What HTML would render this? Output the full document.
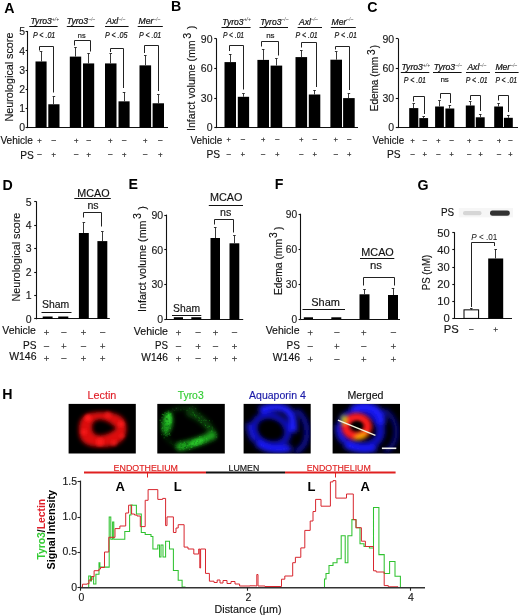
<!DOCTYPE html>
<html><head><meta charset="utf-8"><title>Figure</title>
<style>
html,body{margin:0;padding:0;background:#fff;width:520px;height:616px;overflow:hidden;}
svg{display:block;will-change:transform;font-family:"Liberation Sans", sans-serif;}
</style></head><body>
<svg width="520" height="616" viewBox="0 0 520 616">
<defs>
<filter id="b05" x="-50%" y="-50%" width="200%" height="200%"><feGaussianBlur stdDeviation="0.45"/></filter>
<filter id="b08" x="-50%" y="-50%" width="200%" height="200%"><feGaussianBlur stdDeviation="0.7"/></filter>
<filter id="b1" x="-50%" y="-50%" width="200%" height="200%"><feGaussianBlur stdDeviation="1"/></filter>
<filter id="b15" x="-50%" y="-50%" width="200%" height="200%"><feGaussianBlur stdDeviation="1.5"/></filter>
<filter id="b2" x="-50%" y="-50%" width="200%" height="200%"><feGaussianBlur stdDeviation="2"/></filter>
<filter id="b25" x="-50%" y="-50%" width="200%" height="200%"><feGaussianBlur stdDeviation="2.5"/></filter>
<clipPath id="c0"><rect x="68.6" y="403.9" width="67.2" height="49.6"/></clipPath><clipPath id="c1"><rect x="157.3" y="403.9" width="67.5" height="49.6"/></clipPath><clipPath id="c2"><rect x="243.6" y="403.9" width="67.1" height="49.6"/></clipPath><clipPath id="c3"><rect x="332.6" y="403.9" width="67.4" height="49.6"/></clipPath>
<filter id="b17" x="-50%" y="-50%" width="200%" height="200%"><feGaussianBlur stdDeviation="1.7"/></filter>
</defs>
<rect width="520" height="616" fill="#fff"/>
<text x="4.2" y="12.5" font-size="14.2" fill="#000" font-weight="bold">A</text>
<line x1="27.5" y1="31.1" x2="27.5" y2="128.1" stroke="#111" stroke-width="1.1"/>
<line x1="25.6" y1="127.5" x2="27.8" y2="127.5" stroke="#111" stroke-width="1.1"/>
<text x="25.1" y="131.38" font-size="10.5" fill="#1a1a1a" text-anchor="end" stroke="#1a1a1a" stroke-width="0.14">0</text>
<line x1="25.6" y1="108.5" x2="27.8" y2="108.5" stroke="#111" stroke-width="1.1"/>
<text x="25.1" y="112.18" font-size="10.5" fill="#1a1a1a" text-anchor="end" stroke="#1a1a1a" stroke-width="0.14">1</text>
<line x1="25.6" y1="89.5" x2="27.8" y2="89.5" stroke="#111" stroke-width="1.1"/>
<text x="25.1" y="92.98" font-size="10.5" fill="#1a1a1a" text-anchor="end" stroke="#1a1a1a" stroke-width="0.14">2</text>
<line x1="25.6" y1="70.5" x2="27.8" y2="70.5" stroke="#111" stroke-width="1.1"/>
<text x="25.1" y="73.78" font-size="10.5" fill="#1a1a1a" text-anchor="end" stroke="#1a1a1a" stroke-width="0.14">3</text>
<line x1="25.6" y1="50.5" x2="27.8" y2="50.5" stroke="#111" stroke-width="1.1"/>
<text x="25.1" y="54.58" font-size="10.5" fill="#1a1a1a" text-anchor="end" stroke="#1a1a1a" stroke-width="0.14">4</text>
<line x1="25.6" y1="31.5" x2="27.8" y2="31.5" stroke="#111" stroke-width="1.1"/>
<text x="25.1" y="35.38" font-size="10.5" fill="#1a1a1a" text-anchor="end" stroke="#1a1a1a" stroke-width="0.14">5</text>
<line x1="27.8" y1="127.5" x2="168" y2="127.5" stroke="#111" stroke-width="1.2"/>
<rect x="35.5" y="61.47" width="11.1" height="66.13" fill="#000"/>
<line x1="41.5" y1="51.75" x2="41.5" y2="61.47" stroke="#222" stroke-width="0.9"/>
<line x1="39.75" y1="51.5" x2="42.35" y2="51.5" stroke="#222" stroke-width="0.9"/>
<rect x="48.3" y="104.26" width="11.2" height="23.34" fill="#000"/>
<line x1="53.5" y1="96.48" x2="53.5" y2="104.26" stroke="#222" stroke-width="0.9"/>
<line x1="52.6" y1="96.5" x2="55.2" y2="96.5" stroke="#222" stroke-width="0.9"/>
<rect x="69.8" y="56.61" width="11.4" height="70.99" fill="#000"/>
<line x1="75.5" y1="47.47" x2="75.5" y2="56.61" stroke="#222" stroke-width="0.9"/>
<line x1="74.2" y1="47.5" x2="76.8" y2="47.5" stroke="#222" stroke-width="0.9"/>
<rect x="83" y="63.42" width="11.2" height="64.18" fill="#000"/>
<line x1="88.5" y1="53.3" x2="88.5" y2="63.42" stroke="#222" stroke-width="0.9"/>
<line x1="87.3" y1="53.5" x2="89.9" y2="53.5" stroke="#222" stroke-width="0.9"/>
<rect x="105" y="63.42" width="11.5" height="64.18" fill="#000"/>
<line x1="110.5" y1="53.69" x2="110.5" y2="63.42" stroke="#222" stroke-width="0.9"/>
<line x1="109.45" y1="53.5" x2="112.05" y2="53.5" stroke="#222" stroke-width="0.9"/>
<rect x="118.5" y="101.34" width="11.1" height="26.26" fill="#000"/>
<line x1="124.5" y1="92.01" x2="124.5" y2="101.34" stroke="#222" stroke-width="0.9"/>
<line x1="122.75" y1="92.5" x2="125.35" y2="92.5" stroke="#222" stroke-width="0.9"/>
<rect x="139.5" y="65.36" width="11.6" height="62.24" fill="#000"/>
<line x1="145.5" y1="55.63" x2="145.5" y2="65.36" stroke="#222" stroke-width="0.9"/>
<line x1="144" y1="55.5" x2="146.6" y2="55.5" stroke="#222" stroke-width="0.9"/>
<rect x="152.6" y="103.29" width="11.4" height="24.31" fill="#000"/>
<line x1="158.5" y1="94.53" x2="158.5" y2="103.29" stroke="#222" stroke-width="0.9"/>
<line x1="157" y1="94.5" x2="159.6" y2="94.5" stroke="#222" stroke-width="0.9"/>
<polyline points="39.5,50.5 39.5,46.5 53.5,46.5 53.5,92.5" fill="none" stroke="#222" stroke-width="1"/>
<polyline points="74.5,45.5 74.5,40.5 90.5,40.5 90.5,51.5" fill="none" stroke="#222" stroke-width="1"/>
<polyline points="110.5,52 110.5,48.5 123.5,48.5 123.5,88" fill="none" stroke="#222" stroke-width="1"/>
<polyline points="144.5,53 144.5,45.5 158.5,45.5 158.5,91" fill="none" stroke="#222" stroke-width="1"/>
<text x="30.5" y="24.4" font-size="8.6" font-style="italic" fill="#111" stroke="#111" stroke-width="0.22">Tyro3<tspan font-size="5" dy="-3.6" fill="#333" stroke="none">+/+</tspan></text>
<line x1="29.3" y1="26.5" x2="57.6" y2="26.5" stroke="#111" stroke-width="1"/>
<text x="66.8" y="24.4" font-size="8.6" font-style="italic" fill="#111" stroke="#111" stroke-width="0.22">Tyro3<tspan font-size="5" dy="-3.6" fill="#555" stroke="none">&#8211;/&#8211;</tspan></text>
<line x1="66.8" y1="26.5" x2="94.3" y2="26.5" stroke="#111" stroke-width="1"/>
<text x="106.3" y="24.4" font-size="8.6" font-style="italic" fill="#111" stroke="#111" stroke-width="0.22">Axl<tspan font-size="5" dy="-3.6" fill="#555" stroke="none">&#8211;/&#8211;</tspan></text>
<line x1="105" y1="26.5" x2="128.6" y2="26.5" stroke="#111" stroke-width="1"/>
<text x="138.5" y="24.4" font-size="8.6" font-style="italic" fill="#111" stroke="#111" stroke-width="0.22">Mer<tspan font-size="5" dy="-3.6" fill="#555" stroke="none">&#8211;/&#8211;</tspan></text>
<line x1="137.7" y1="26.5" x2="162.8" y2="26.5" stroke="#111" stroke-width="1"/>
<text x="32.9" y="37.9" font-size="8.4" fill="#111" font-style="italic" textLength="22.4" lengthAdjust="spacingAndGlyphs" stroke="#111" stroke-width="0.18">P &lt; .01</text>
<text x="77.8" y="37.6" font-size="8" fill="#111" textLength="7.8" lengthAdjust="spacingAndGlyphs" stroke="#111" stroke-width="0.15">ns</text>
<text x="105" y="37.9" font-size="8.4" fill="#111" font-style="italic" textLength="22.5" lengthAdjust="spacingAndGlyphs" stroke="#111" stroke-width="0.18">P &lt; .05</text>
<text x="139" y="37.9" font-size="8.4" fill="#111" font-style="italic" textLength="22.2" lengthAdjust="spacingAndGlyphs" stroke="#111" stroke-width="0.18">P &lt; .01</text>
<text transform="translate(13.29,121.6) rotate(-90)" font-size="10.8" fill="#111" stroke="#111" stroke-width="0.14" textLength="89" lengthAdjust="spacingAndGlyphs">Neurological score</text>
<text x="33" y="144.3" font-size="10.2" fill="#111" text-anchor="end" textLength="32.6" lengthAdjust="spacingAndGlyphs" stroke="#111" stroke-width="0.14">Vehicle</text>
<text x="33.8" y="158.5" font-size="10.2" fill="#111" text-anchor="end" stroke="#111" stroke-width="0.14">PS</text>
<line x1="37.4" y1="140.5" x2="41.6" y2="140.5" stroke="#444" stroke-width="0.85"/>
<line x1="39.5" y1="138.7" x2="39.5" y2="142.9" stroke="#444" stroke-width="0.85"/>
<line x1="37.2" y1="154.5" x2="41.8" y2="154.5" stroke="#444" stroke-width="0.85"/>
<line x1="51.4" y1="140.5" x2="56" y2="140.5" stroke="#444" stroke-width="0.85"/>
<line x1="51.6" y1="154.5" x2="55.8" y2="154.5" stroke="#444" stroke-width="0.85"/>
<line x1="53.5" y1="152.8" x2="53.5" y2="157" stroke="#444" stroke-width="0.85"/>
<line x1="74.1" y1="140.5" x2="78.3" y2="140.5" stroke="#444" stroke-width="0.85"/>
<line x1="76.5" y1="138.7" x2="76.5" y2="142.9" stroke="#444" stroke-width="0.85"/>
<line x1="73.9" y1="154.5" x2="78.5" y2="154.5" stroke="#444" stroke-width="0.85"/>
<line x1="86.4" y1="140.5" x2="91" y2="140.5" stroke="#444" stroke-width="0.85"/>
<line x1="86.6" y1="154.5" x2="90.8" y2="154.5" stroke="#444" stroke-width="0.85"/>
<line x1="88.5" y1="152.8" x2="88.5" y2="157" stroke="#444" stroke-width="0.85"/>
<line x1="108.2" y1="140.5" x2="112.4" y2="140.5" stroke="#444" stroke-width="0.85"/>
<line x1="110.5" y1="138.7" x2="110.5" y2="142.9" stroke="#444" stroke-width="0.85"/>
<line x1="108" y1="154.5" x2="112.6" y2="154.5" stroke="#444" stroke-width="0.85"/>
<line x1="121.9" y1="140.5" x2="126.5" y2="140.5" stroke="#444" stroke-width="0.85"/>
<line x1="122.1" y1="154.5" x2="126.3" y2="154.5" stroke="#444" stroke-width="0.85"/>
<line x1="124.5" y1="152.8" x2="124.5" y2="157" stroke="#444" stroke-width="0.85"/>
<line x1="143.1" y1="140.5" x2="147.3" y2="140.5" stroke="#444" stroke-width="0.85"/>
<line x1="145.5" y1="138.7" x2="145.5" y2="142.9" stroke="#444" stroke-width="0.85"/>
<line x1="142.9" y1="154.5" x2="147.5" y2="154.5" stroke="#444" stroke-width="0.85"/>
<line x1="158" y1="140.5" x2="162.6" y2="140.5" stroke="#444" stroke-width="0.85"/>
<line x1="158.2" y1="154.5" x2="162.4" y2="154.5" stroke="#444" stroke-width="0.85"/>
<line x1="160.5" y1="152.8" x2="160.5" y2="157" stroke="#444" stroke-width="0.85"/>
<text x="170.9" y="11" font-size="14.2" fill="#000" font-weight="bold">B</text>
<line x1="216.5" y1="38.45" x2="216.5" y2="128.1" stroke="#111" stroke-width="1.1"/>
<line x1="214.3" y1="127.5" x2="216.5" y2="127.5" stroke="#111" stroke-width="1.1"/>
<text x="212.5" y="131.38" font-size="10.5" fill="#1a1a1a" text-anchor="end" stroke="#1a1a1a" stroke-width="0.14">0</text>
<line x1="214.3" y1="98.5" x2="216.5" y2="98.5" stroke="#111" stroke-width="1.1"/>
<text x="212.5" y="101.83" font-size="10.5" fill="#1a1a1a" text-anchor="end" stroke="#1a1a1a" stroke-width="0.14">30</text>
<line x1="214.3" y1="68.5" x2="216.5" y2="68.5" stroke="#111" stroke-width="1.1"/>
<text x="212.5" y="72.28" font-size="10.5" fill="#1a1a1a" text-anchor="end" stroke="#1a1a1a" stroke-width="0.14">60</text>
<line x1="214.3" y1="38.5" x2="216.5" y2="38.5" stroke="#111" stroke-width="1.1"/>
<text x="212.5" y="42.73" font-size="10.5" fill="#1a1a1a" text-anchor="end" stroke="#1a1a1a" stroke-width="0.14">90</text>
<line x1="216.5" y1="127.5" x2="358" y2="127.5" stroke="#111" stroke-width="1.2"/>
<rect x="224.5" y="62.1" width="11.5" height="65.5" fill="#000"/>
<line x1="230.5" y1="54.2" x2="230.5" y2="62.1" stroke="#222" stroke-width="0.9"/>
<line x1="228.95" y1="54.5" x2="231.55" y2="54.5" stroke="#222" stroke-width="0.9"/>
<rect x="237.8" y="96.8" width="11.3" height="30.8" fill="#000"/>
<line x1="243.5" y1="93.9" x2="243.5" y2="96.8" stroke="#222" stroke-width="0.9"/>
<line x1="242.15" y1="93.5" x2="244.75" y2="93.5" stroke="#222" stroke-width="0.9"/>
<rect x="257.4" y="59.9" width="11.6" height="67.7" fill="#000"/>
<line x1="263.5" y1="49" x2="263.5" y2="59.9" stroke="#222" stroke-width="0.9"/>
<line x1="261.9" y1="49.5" x2="264.5" y2="49.5" stroke="#222" stroke-width="0.9"/>
<rect x="270.6" y="65.6" width="11.6" height="62" fill="#000"/>
<line x1="276.5" y1="58.8" x2="276.5" y2="65.6" stroke="#222" stroke-width="0.9"/>
<line x1="275.1" y1="58.5" x2="277.7" y2="58.5" stroke="#222" stroke-width="0.9"/>
<rect x="295.5" y="57.1" width="11.6" height="70.5" fill="#000"/>
<line x1="301.5" y1="50.1" x2="301.5" y2="57.1" stroke="#222" stroke-width="0.9"/>
<line x1="300" y1="50.5" x2="302.6" y2="50.5" stroke="#222" stroke-width="0.9"/>
<rect x="308.8" y="94.5" width="11.5" height="33.1" fill="#000"/>
<line x1="314.5" y1="90.3" x2="314.5" y2="94.5" stroke="#222" stroke-width="0.9"/>
<line x1="313.25" y1="90.5" x2="315.85" y2="90.5" stroke="#222" stroke-width="0.9"/>
<rect x="330.4" y="59.7" width="11.6" height="67.9" fill="#000"/>
<line x1="336.5" y1="51.8" x2="336.5" y2="59.7" stroke="#222" stroke-width="0.9"/>
<line x1="334.9" y1="51.5" x2="337.5" y2="51.5" stroke="#222" stroke-width="0.9"/>
<rect x="343.1" y="98.1" width="11.6" height="29.5" fill="#000"/>
<line x1="348.5" y1="93.8" x2="348.5" y2="98.1" stroke="#222" stroke-width="0.9"/>
<line x1="347.6" y1="93.5" x2="350.2" y2="93.5" stroke="#222" stroke-width="0.9"/>
<polyline points="229.5,51 229.5,45.5 243.5,45.5 243.5,89.5" fill="none" stroke="#222" stroke-width="1"/>
<polyline points="261.5,46.5 261.5,41.5 278.5,41.5 278.5,55.5" fill="none" stroke="#222" stroke-width="1"/>
<polyline points="301.5,47.5 301.5,42.5 316.5,42.5 316.5,87" fill="none" stroke="#222" stroke-width="1"/>
<polyline points="335.5,49.5 335.5,46.5 349.5,46.5 349.5,90" fill="none" stroke="#222" stroke-width="1"/>
<text x="222.3" y="24.6" font-size="8.6" font-style="italic" fill="#111" stroke="#111" stroke-width="0.22">Tyro3<tspan font-size="5" dy="-3.6" fill="#333" stroke="none">+/+</tspan></text>
<line x1="221.5" y1="27.5" x2="250.6" y2="27.5" stroke="#111" stroke-width="1"/>
<text x="260.2" y="24.6" font-size="8.6" font-style="italic" fill="#111" stroke="#111" stroke-width="0.22">Tyro3<tspan font-size="5" dy="-3.6" fill="#555" stroke="none">&#8211;/&#8211;</tspan></text>
<line x1="259.5" y1="27.5" x2="288" y2="27.5" stroke="#111" stroke-width="1"/>
<text x="299" y="24.6" font-size="8.6" font-style="italic" fill="#111" stroke="#111" stroke-width="0.22">Axl<tspan font-size="5" dy="-3.6" fill="#555" stroke="none">&#8211;/&#8211;</tspan></text>
<line x1="297.6" y1="27.5" x2="322" y2="27.5" stroke="#111" stroke-width="1"/>
<text x="331.5" y="24.6" font-size="8.6" font-style="italic" fill="#111" stroke="#111" stroke-width="0.22">Mer<tspan font-size="5" dy="-3.6" fill="#555" stroke="none">&#8211;/&#8211;</tspan></text>
<line x1="330.8" y1="27.5" x2="355.8" y2="27.5" stroke="#111" stroke-width="1"/>
<text x="222.9" y="38.1" font-size="8.4" fill="#111" font-style="italic" textLength="21.2" lengthAdjust="spacingAndGlyphs" stroke="#111" stroke-width="0.18">P &lt; .01</text>
<text x="266.2" y="38.2" font-size="8" fill="#111" textLength="8.4" lengthAdjust="spacingAndGlyphs" stroke="#111" stroke-width="0.15">ns</text>
<text x="295.5" y="38.1" font-size="8.4" fill="#111" font-style="italic" textLength="22.2" lengthAdjust="spacingAndGlyphs" stroke="#111" stroke-width="0.18">P &lt; .01</text>
<text x="334.6" y="38.1" font-size="8.4" fill="#111" font-style="italic" textLength="22.2" lengthAdjust="spacingAndGlyphs" stroke="#111" stroke-width="0.18">P &lt; .01</text>
<text transform="translate(195.3,131) rotate(-90)" font-size="10.6" fill="#111" stroke="#111" stroke-width="0.14"><tspan textLength="90.7" lengthAdjust="spacingAndGlyphs">Infarct volume (mm</tspan><tspan dx="1.6" dy="-4.8">3</tspan><tspan dx="3.5" dy="4.8">)</tspan></text>
<text x="222.3" y="143.6" font-size="10.2" fill="#111" text-anchor="end" textLength="31.8" lengthAdjust="spacingAndGlyphs" stroke="#111" stroke-width="0.14">Vehicle</text>
<text x="220" y="157.8" font-size="10.2" fill="#111" text-anchor="end" stroke="#111" stroke-width="0.14">PS</text>
<line x1="226.7" y1="139.5" x2="230.7" y2="139.5" stroke="#444" stroke-width="0.85"/>
<line x1="228.5" y1="137.6" x2="228.5" y2="141.6" stroke="#444" stroke-width="0.85"/>
<line x1="226.5" y1="154.5" x2="230.9" y2="154.5" stroke="#444" stroke-width="0.85"/>
<line x1="240.7" y1="139.5" x2="245.1" y2="139.5" stroke="#444" stroke-width="0.85"/>
<line x1="240.9" y1="154.5" x2="244.9" y2="154.5" stroke="#444" stroke-width="0.85"/>
<line x1="242.5" y1="152.2" x2="242.5" y2="156.2" stroke="#444" stroke-width="0.85"/>
<line x1="261.1" y1="139.5" x2="265.1" y2="139.5" stroke="#444" stroke-width="0.85"/>
<line x1="263.5" y1="137.6" x2="263.5" y2="141.6" stroke="#444" stroke-width="0.85"/>
<line x1="260.9" y1="154.5" x2="265.3" y2="154.5" stroke="#444" stroke-width="0.85"/>
<line x1="275.1" y1="139.5" x2="279.5" y2="139.5" stroke="#444" stroke-width="0.85"/>
<line x1="275.3" y1="154.5" x2="279.3" y2="154.5" stroke="#444" stroke-width="0.85"/>
<line x1="277.5" y1="152.2" x2="277.5" y2="156.2" stroke="#444" stroke-width="0.85"/>
<line x1="299.3" y1="139.5" x2="303.3" y2="139.5" stroke="#444" stroke-width="0.85"/>
<line x1="301.5" y1="137.6" x2="301.5" y2="141.6" stroke="#444" stroke-width="0.85"/>
<line x1="299.1" y1="154.5" x2="303.5" y2="154.5" stroke="#444" stroke-width="0.85"/>
<line x1="312.6" y1="139.5" x2="317" y2="139.5" stroke="#444" stroke-width="0.85"/>
<line x1="312.8" y1="154.5" x2="316.8" y2="154.5" stroke="#444" stroke-width="0.85"/>
<line x1="314.5" y1="152.2" x2="314.5" y2="156.2" stroke="#444" stroke-width="0.85"/>
<line x1="333.8" y1="139.5" x2="337.8" y2="139.5" stroke="#444" stroke-width="0.85"/>
<line x1="335.5" y1="137.6" x2="335.5" y2="141.6" stroke="#444" stroke-width="0.85"/>
<line x1="333.6" y1="154.5" x2="338" y2="154.5" stroke="#444" stroke-width="0.85"/>
<line x1="347" y1="139.5" x2="351.4" y2="139.5" stroke="#444" stroke-width="0.85"/>
<line x1="347.2" y1="154.5" x2="351.2" y2="154.5" stroke="#444" stroke-width="0.85"/>
<line x1="349.5" y1="152.2" x2="349.5" y2="156.2" stroke="#444" stroke-width="0.85"/>
<text x="367.2" y="11.6" font-size="14.2" fill="#000" font-weight="bold">C</text>
<line x1="398.5" y1="38.45" x2="398.5" y2="128.1" stroke="#111" stroke-width="1.1"/>
<line x1="395.8" y1="127.5" x2="398" y2="127.5" stroke="#111" stroke-width="1.1"/>
<text x="394.1" y="131.38" font-size="10.5" fill="#1a1a1a" text-anchor="end" stroke="#1a1a1a" stroke-width="0.14">0</text>
<line x1="395.8" y1="98.5" x2="398" y2="98.5" stroke="#111" stroke-width="1.1"/>
<text x="394.1" y="101.83" font-size="10.5" fill="#1a1a1a" text-anchor="end" stroke="#1a1a1a" stroke-width="0.14">30</text>
<line x1="395.8" y1="68.5" x2="398" y2="68.5" stroke="#111" stroke-width="1.1"/>
<text x="394.1" y="72.28" font-size="10.5" fill="#1a1a1a" text-anchor="end" stroke="#1a1a1a" stroke-width="0.14">60</text>
<line x1="395.8" y1="38.5" x2="398" y2="38.5" stroke="#111" stroke-width="1.1"/>
<text x="394.1" y="42.73" font-size="10.5" fill="#1a1a1a" text-anchor="end" stroke="#1a1a1a" stroke-width="0.14">90</text>
<line x1="398" y1="127.5" x2="518" y2="127.5" stroke="#111" stroke-width="1.2"/>
<rect x="409.2" y="108.1" width="9.1" height="19.5" fill="#000"/>
<line x1="413.5" y1="103.9" x2="413.5" y2="108.1" stroke="#222" stroke-width="0.9"/>
<line x1="412.45" y1="103.5" x2="415.05" y2="103.5" stroke="#222" stroke-width="0.9"/>
<rect x="419.3" y="118.1" width="8.8" height="9.5" fill="#000"/>
<line x1="423.5" y1="116.6" x2="423.5" y2="118.1" stroke="#222" stroke-width="0.9"/>
<line x1="422.4" y1="116.5" x2="425" y2="116.5" stroke="#222" stroke-width="0.9"/>
<rect x="435.1" y="106.5" width="8.8" height="21.1" fill="#000"/>
<line x1="439.5" y1="100.8" x2="439.5" y2="106.5" stroke="#222" stroke-width="0.9"/>
<line x1="438.2" y1="100.5" x2="440.8" y2="100.5" stroke="#222" stroke-width="0.9"/>
<rect x="445.4" y="108.5" width="8.9" height="19.1" fill="#000"/>
<line x1="449.5" y1="105" x2="449.5" y2="108.5" stroke="#222" stroke-width="0.9"/>
<line x1="448.55" y1="105.5" x2="451.15" y2="105.5" stroke="#222" stroke-width="0.9"/>
<rect x="465.8" y="105.5" width="8.9" height="22.1" fill="#000"/>
<line x1="470.5" y1="101.9" x2="470.5" y2="105.5" stroke="#222" stroke-width="0.9"/>
<line x1="468.95" y1="101.5" x2="471.55" y2="101.5" stroke="#222" stroke-width="0.9"/>
<rect x="475.8" y="117.3" width="8.9" height="10.3" fill="#000"/>
<line x1="480.5" y1="114.2" x2="480.5" y2="117.3" stroke="#222" stroke-width="0.9"/>
<line x1="478.95" y1="114.5" x2="481.55" y2="114.5" stroke="#222" stroke-width="0.9"/>
<rect x="494.2" y="106.5" width="8.8" height="21.1" fill="#000"/>
<line x1="498.5" y1="103" x2="498.5" y2="106.5" stroke="#222" stroke-width="0.9"/>
<line x1="497.3" y1="103.5" x2="499.9" y2="103.5" stroke="#222" stroke-width="0.9"/>
<rect x="503.9" y="117.8" width="8.9" height="9.8" fill="#000"/>
<line x1="508.5" y1="115" x2="508.5" y2="117.8" stroke="#222" stroke-width="0.9"/>
<line x1="507.05" y1="115.5" x2="509.65" y2="115.5" stroke="#222" stroke-width="0.9"/>
<polyline points="413.5,101.5 413.5,96.5 424.5,96.5 424.5,114" fill="none" stroke="#222" stroke-width="1"/>
<polyline points="440.5,98.5 440.5,93.5 450.5,93.5 450.5,103" fill="none" stroke="#222" stroke-width="1"/>
<polyline points="470.5,100 470.5,95.5 480.5,95.5 480.5,111" fill="none" stroke="#222" stroke-width="1"/>
<polyline points="498.5,100.5 498.5,95.5 508.5,95.5 508.5,112" fill="none" stroke="#222" stroke-width="1"/>
<text x="401.5" y="70.3" font-size="8.6" font-style="italic" fill="#111" stroke="#111" stroke-width="0.22">Tyro3<tspan font-size="5" dy="-3.6" fill="#333" stroke="none">+/+</tspan></text>
<line x1="400.8" y1="72.5" x2="429.3" y2="72.5" stroke="#111" stroke-width="1"/>
<text x="433.8" y="70.3" font-size="8.6" font-style="italic" fill="#111" stroke="#111" stroke-width="0.22">Tyro3<tspan font-size="5" dy="-3.6" fill="#555" stroke="none">&#8211;/&#8211;</tspan></text>
<line x1="433" y1="72.5" x2="461.6" y2="72.5" stroke="#111" stroke-width="1"/>
<text x="467.4" y="70.3" font-size="8.6" font-style="italic" fill="#111" stroke="#111" stroke-width="0.22">Axl<tspan font-size="5" dy="-3.6" fill="#555" stroke="none">&#8211;/&#8211;</tspan></text>
<line x1="466" y1="72.5" x2="490" y2="72.5" stroke="#111" stroke-width="1"/>
<text x="495.4" y="70.3" font-size="8.6" font-style="italic" fill="#111" stroke="#111" stroke-width="0.22">Mer<tspan font-size="5" dy="-3.6" fill="#555" stroke="none">&#8211;/&#8211;</tspan></text>
<line x1="495" y1="72.5" x2="518.6" y2="72.5" stroke="#111" stroke-width="1"/>
<text x="403.8" y="82.8" font-size="8.4" fill="#111" font-style="italic" textLength="22.2" lengthAdjust="spacingAndGlyphs" stroke="#111" stroke-width="0.18">P &lt; .01</text>
<text x="440.4" y="82.4" font-size="8" fill="#111" textLength="8.5" lengthAdjust="spacingAndGlyphs" stroke="#111" stroke-width="0.15">ns</text>
<text x="465.8" y="82.8" font-size="8.4" fill="#111" font-style="italic" textLength="21.8" lengthAdjust="spacingAndGlyphs" stroke="#111" stroke-width="0.18">P &lt; .01</text>
<text x="495.4" y="82.8" font-size="8.4" fill="#111" font-style="italic" textLength="21.6" lengthAdjust="spacingAndGlyphs" stroke="#111" stroke-width="0.18">P &lt; .01</text>
<text transform="translate(378.2,111.3) rotate(-90)" font-size="10.1" fill="#111" stroke="#111" stroke-width="0.14"><tspan textLength="54.5" lengthAdjust="spacingAndGlyphs">Edema (mm</tspan><tspan dx="1.8" dy="-2.9">3</tspan><tspan dx="1.2" dy="2.9">)</tspan></text>
<text x="404.2" y="144.4" font-size="10.2" fill="#111" text-anchor="end" textLength="31.6" lengthAdjust="spacingAndGlyphs" stroke="#111" stroke-width="0.14">Vehicle</text>
<text x="400.6" y="157.5" font-size="10.2" fill="#111" text-anchor="end" stroke="#111" stroke-width="0.14">PS</text>
<line x1="410.6" y1="140.5" x2="414.6" y2="140.5" stroke="#444" stroke-width="0.85"/>
<line x1="412.5" y1="138.9" x2="412.5" y2="142.9" stroke="#444" stroke-width="0.85"/>
<line x1="410.4" y1="154.5" x2="414.8" y2="154.5" stroke="#444" stroke-width="0.85"/>
<line x1="422.6" y1="140.5" x2="427" y2="140.5" stroke="#444" stroke-width="0.85"/>
<line x1="422.8" y1="154.5" x2="426.8" y2="154.5" stroke="#444" stroke-width="0.85"/>
<line x1="424.5" y1="152.1" x2="424.5" y2="156.1" stroke="#444" stroke-width="0.85"/>
<line x1="436.4" y1="140.5" x2="440.4" y2="140.5" stroke="#444" stroke-width="0.85"/>
<line x1="438.5" y1="138.9" x2="438.5" y2="142.9" stroke="#444" stroke-width="0.85"/>
<line x1="436.2" y1="154.5" x2="440.6" y2="154.5" stroke="#444" stroke-width="0.85"/>
<line x1="449.4" y1="140.5" x2="453.8" y2="140.5" stroke="#444" stroke-width="0.85"/>
<line x1="449.6" y1="154.5" x2="453.6" y2="154.5" stroke="#444" stroke-width="0.85"/>
<line x1="451.5" y1="152.1" x2="451.5" y2="156.1" stroke="#444" stroke-width="0.85"/>
<line x1="467.2" y1="140.5" x2="471.2" y2="140.5" stroke="#444" stroke-width="0.85"/>
<line x1="469.5" y1="138.9" x2="469.5" y2="142.9" stroke="#444" stroke-width="0.85"/>
<line x1="467" y1="154.5" x2="471.4" y2="154.5" stroke="#444" stroke-width="0.85"/>
<line x1="478.4" y1="140.5" x2="482.8" y2="140.5" stroke="#444" stroke-width="0.85"/>
<line x1="478.6" y1="154.5" x2="482.6" y2="154.5" stroke="#444" stroke-width="0.85"/>
<line x1="480.5" y1="152.1" x2="480.5" y2="156.1" stroke="#444" stroke-width="0.85"/>
<line x1="497" y1="140.5" x2="501" y2="140.5" stroke="#444" stroke-width="0.85"/>
<line x1="499.5" y1="138.9" x2="499.5" y2="142.9" stroke="#444" stroke-width="0.85"/>
<line x1="496.8" y1="154.5" x2="501.2" y2="154.5" stroke="#444" stroke-width="0.85"/>
<line x1="508.2" y1="140.5" x2="512.6" y2="140.5" stroke="#444" stroke-width="0.85"/>
<line x1="508.4" y1="154.5" x2="512.4" y2="154.5" stroke="#444" stroke-width="0.85"/>
<line x1="510.5" y1="152.1" x2="510.5" y2="156.1" stroke="#444" stroke-width="0.85"/>
<text x="2.5" y="189.7" font-size="14.2" fill="#000" font-weight="bold">D</text>
<line x1="36.5" y1="201.3" x2="36.5" y2="319.3" stroke="#111" stroke-width="1.1"/>
<line x1="34.2" y1="318.5" x2="36.4" y2="318.5" stroke="#111" stroke-width="1.1"/>
<text x="31.7" y="322.58" font-size="10.5" fill="#1a1a1a" text-anchor="end" stroke="#1a1a1a" stroke-width="0.14">0</text>
<line x1="34.2" y1="295.5" x2="36.4" y2="295.5" stroke="#111" stroke-width="1.1"/>
<text x="31.7" y="299.18" font-size="10.5" fill="#1a1a1a" text-anchor="end" stroke="#1a1a1a" stroke-width="0.14">1</text>
<line x1="34.2" y1="272.5" x2="36.4" y2="272.5" stroke="#111" stroke-width="1.1"/>
<text x="31.7" y="275.78" font-size="10.5" fill="#1a1a1a" text-anchor="end" stroke="#1a1a1a" stroke-width="0.14">2</text>
<line x1="34.2" y1="248.5" x2="36.4" y2="248.5" stroke="#111" stroke-width="1.1"/>
<text x="31.7" y="252.38" font-size="10.5" fill="#1a1a1a" text-anchor="end" stroke="#1a1a1a" stroke-width="0.14">3</text>
<line x1="34.2" y1="225.5" x2="36.4" y2="225.5" stroke="#111" stroke-width="1.1"/>
<text x="31.7" y="228.98" font-size="10.5" fill="#1a1a1a" text-anchor="end" stroke="#1a1a1a" stroke-width="0.14">4</text>
<line x1="34.2" y1="201.5" x2="36.4" y2="201.5" stroke="#111" stroke-width="1.1"/>
<text x="31.7" y="205.58" font-size="10.5" fill="#1a1a1a" text-anchor="end" stroke="#1a1a1a" stroke-width="0.14">5</text>
<line x1="36.4" y1="318.5" x2="109.8" y2="318.5" stroke="#111" stroke-width="1.2"/>
<rect x="42.7" y="316.5" width="9.9" height="2.3" fill="#000"/>
<rect x="58.2" y="316.5" width="10.1" height="2.3" fill="#000"/>
<rect x="78.9" y="233" width="9.9" height="85.8" fill="#000"/>
<line x1="83.5" y1="222.6" x2="83.5" y2="233" stroke="#222" stroke-width="0.9"/>
<line x1="82.55" y1="222.5" x2="85.15" y2="222.5" stroke="#222" stroke-width="0.9"/>
<rect x="97.4" y="241.1" width="9.9" height="77.7" fill="#000"/>
<line x1="102.5" y1="231.8" x2="102.5" y2="241.1" stroke="#222" stroke-width="0.9"/>
<line x1="101.05" y1="231.5" x2="103.65" y2="231.5" stroke="#222" stroke-width="0.9"/>
<text x="42" y="308" font-size="10.2" fill="#111" textLength="27.2" lengthAdjust="spacingAndGlyphs" stroke="#111" stroke-width="0.14">Sham</text>
<line x1="41.5" y1="312.5" x2="71.5" y2="312.5" stroke="#111" stroke-width="1"/>
<text x="77.3" y="196.6" font-size="10.2" fill="#111" textLength="32.3" lengthAdjust="spacingAndGlyphs" stroke="#111" stroke-width="0.14">MCAO</text>
<line x1="74.3" y1="198.5" x2="110.8" y2="198.5" stroke="#111" stroke-width="1"/>
<text x="87.4" y="208.6" font-size="10.2" fill="#111" textLength="11.2" lengthAdjust="spacingAndGlyphs" stroke="#111" stroke-width="0.14">ns</text>
<polyline points="83.5,217.5 83.5,212.5 101.5,212.5 101.5,226.5" fill="none" stroke="#222" stroke-width="1"/>
<text transform="translate(20.49,301.5) rotate(-90)" font-size="10.8" fill="#111" stroke="#111" stroke-width="0.14" textLength="88.8" lengthAdjust="spacingAndGlyphs">Neurological score</text>
<text x="35.8" y="333.5" font-size="10.2" fill="#111" text-anchor="end" textLength="33.5" lengthAdjust="spacingAndGlyphs" stroke="#111" stroke-width="0.14">Vehicle</text>
<text x="36.5" y="348.5" font-size="10.2" fill="#111" text-anchor="end" textLength="13.5" lengthAdjust="spacingAndGlyphs" stroke="#111" stroke-width="0.14">PS</text>
<text x="36.5" y="360.4" font-size="10.2" fill="#111" text-anchor="end" textLength="27.3" lengthAdjust="spacingAndGlyphs" stroke="#111" stroke-width="0.14">W146</text>
<line x1="44" y1="332.5" x2="49" y2="332.5" stroke="#444" stroke-width="0.85"/>
<line x1="46.5" y1="329.9" x2="46.5" y2="334.9" stroke="#444" stroke-width="0.85"/>
<line x1="61.2" y1="332.5" x2="66.6" y2="332.5" stroke="#444" stroke-width="0.85"/>
<line x1="81" y1="332.5" x2="86" y2="332.5" stroke="#444" stroke-width="0.85"/>
<line x1="83.5" y1="329.9" x2="83.5" y2="334.9" stroke="#444" stroke-width="0.85"/>
<line x1="100" y1="332.5" x2="105.4" y2="332.5" stroke="#444" stroke-width="0.85"/>
<line x1="43.8" y1="346.5" x2="49.2" y2="346.5" stroke="#444" stroke-width="0.85"/>
<line x1="61.4" y1="346.5" x2="66.4" y2="346.5" stroke="#444" stroke-width="0.85"/>
<line x1="63.5" y1="343.5" x2="63.5" y2="348.5" stroke="#444" stroke-width="0.85"/>
<line x1="80.8" y1="346.5" x2="86.2" y2="346.5" stroke="#444" stroke-width="0.85"/>
<line x1="100.2" y1="346.5" x2="105.2" y2="346.5" stroke="#444" stroke-width="0.85"/>
<line x1="102.5" y1="343.5" x2="102.5" y2="348.5" stroke="#444" stroke-width="0.85"/>
<line x1="44" y1="358.5" x2="49" y2="358.5" stroke="#444" stroke-width="0.85"/>
<line x1="46.5" y1="355.9" x2="46.5" y2="360.9" stroke="#444" stroke-width="0.85"/>
<line x1="61.2" y1="358.5" x2="66.6" y2="358.5" stroke="#444" stroke-width="0.85"/>
<line x1="81" y1="358.5" x2="86" y2="358.5" stroke="#444" stroke-width="0.85"/>
<line x1="83.5" y1="355.9" x2="83.5" y2="360.9" stroke="#444" stroke-width="0.85"/>
<line x1="100.2" y1="358.5" x2="105.2" y2="358.5" stroke="#444" stroke-width="0.85"/>
<line x1="102.5" y1="355.9" x2="102.5" y2="360.9" stroke="#444" stroke-width="0.85"/>
<text x="128.5" y="189.1" font-size="14.2" fill="#000" font-weight="bold">E</text>
<line x1="166.5" y1="214.6" x2="166.5" y2="320" stroke="#111" stroke-width="1.1"/>
<line x1="164.3" y1="319.5" x2="166.5" y2="319.5" stroke="#111" stroke-width="1.1"/>
<text x="163.2" y="323.28" font-size="10.5" fill="#1a1a1a" text-anchor="end" stroke="#1a1a1a" stroke-width="0.14">0</text>
<line x1="164.3" y1="284.5" x2="166.5" y2="284.5" stroke="#111" stroke-width="1.1"/>
<text x="163.2" y="288.48" font-size="10.5" fill="#1a1a1a" text-anchor="end" stroke="#1a1a1a" stroke-width="0.14">30</text>
<line x1="164.3" y1="249.5" x2="166.5" y2="249.5" stroke="#111" stroke-width="1.1"/>
<text x="163.2" y="253.68" font-size="10.5" fill="#1a1a1a" text-anchor="end" stroke="#1a1a1a" stroke-width="0.14">60</text>
<line x1="164.3" y1="215.5" x2="166.5" y2="215.5" stroke="#111" stroke-width="1.1"/>
<text x="163.2" y="218.88" font-size="10.5" fill="#1a1a1a" text-anchor="end" stroke="#1a1a1a" stroke-width="0.14">90</text>
<line x1="166.3" y1="319.5" x2="243.2" y2="319.5" stroke="#111" stroke-width="1.2"/>
<rect x="173.8" y="317.2" width="9.2" height="2.3" fill="#000"/>
<rect x="191.3" y="317.2" width="10" height="2.3" fill="#000"/>
<rect x="210.5" y="238" width="9.5" height="81.5" fill="#000"/>
<line x1="215.5" y1="227.5" x2="215.5" y2="238" stroke="#222" stroke-width="0.9"/>
<line x1="213.95" y1="227.5" x2="216.55" y2="227.5" stroke="#222" stroke-width="0.9"/>
<rect x="229.5" y="243.3" width="9.8" height="76.2" fill="#000"/>
<line x1="234.5" y1="235.5" x2="234.5" y2="243.3" stroke="#222" stroke-width="0.9"/>
<line x1="233.1" y1="235.5" x2="235.7" y2="235.5" stroke="#222" stroke-width="0.9"/>
<text x="173" y="311.6" font-size="10.2" fill="#111" textLength="27" lengthAdjust="spacingAndGlyphs" stroke="#111" stroke-width="0.14">Sham</text>
<line x1="172" y1="315.5" x2="201.3" y2="315.5" stroke="#111" stroke-width="1"/>
<text x="210" y="201.2" font-size="10.2" fill="#111" textLength="32.5" lengthAdjust="spacingAndGlyphs" stroke="#111" stroke-width="0.14">MCAO</text>
<line x1="208.8" y1="205.5" x2="243" y2="205.5" stroke="#111" stroke-width="1"/>
<text x="220" y="216" font-size="10.2" fill="#111" textLength="11.3" lengthAdjust="spacingAndGlyphs" stroke="#111" stroke-width="0.14">ns</text>
<polyline points="214.5,224.5 214.5,219.5 233.5,219.5 233.5,232.5" fill="none" stroke="#222" stroke-width="1"/>
<text transform="translate(146.2,312) rotate(-90)" font-size="10.7" fill="#111" stroke="#111" stroke-width="0.14"><tspan textLength="91.5" lengthAdjust="spacingAndGlyphs">Infarct volume (mm</tspan><tspan dx="1.5" dy="-4.8">3</tspan><tspan dx="3.4" dy="4.8">)</tspan></text>
<text x="168" y="334.9" font-size="10.2" fill="#111" text-anchor="end" textLength="34.2" lengthAdjust="spacingAndGlyphs" stroke="#111" stroke-width="0.14">Vehicle</text>
<text x="168" y="349.4" font-size="10.2" fill="#111" text-anchor="end" textLength="13" lengthAdjust="spacingAndGlyphs" stroke="#111" stroke-width="0.14">PS</text>
<text x="168" y="361.1" font-size="10.2" fill="#111" text-anchor="end" textLength="26.7" lengthAdjust="spacingAndGlyphs" stroke="#111" stroke-width="0.14">W146</text>
<line x1="176" y1="332.5" x2="181" y2="332.5" stroke="#444" stroke-width="0.85"/>
<line x1="178.5" y1="330.3" x2="178.5" y2="335.3" stroke="#444" stroke-width="0.85"/>
<line x1="195.4" y1="332.5" x2="200.8" y2="332.5" stroke="#444" stroke-width="0.85"/>
<line x1="213" y1="332.5" x2="218" y2="332.5" stroke="#444" stroke-width="0.85"/>
<line x1="215.5" y1="330.3" x2="215.5" y2="335.3" stroke="#444" stroke-width="0.85"/>
<line x1="231.8" y1="332.5" x2="237.2" y2="332.5" stroke="#444" stroke-width="0.85"/>
<line x1="175.8" y1="346.5" x2="181.2" y2="346.5" stroke="#444" stroke-width="0.85"/>
<line x1="195.6" y1="346.5" x2="200.6" y2="346.5" stroke="#444" stroke-width="0.85"/>
<line x1="198.5" y1="344" x2="198.5" y2="349" stroke="#444" stroke-width="0.85"/>
<line x1="212.8" y1="346.5" x2="218.2" y2="346.5" stroke="#444" stroke-width="0.85"/>
<line x1="232" y1="346.5" x2="237" y2="346.5" stroke="#444" stroke-width="0.85"/>
<line x1="234.5" y1="344" x2="234.5" y2="349" stroke="#444" stroke-width="0.85"/>
<line x1="176" y1="358.5" x2="181" y2="358.5" stroke="#444" stroke-width="0.85"/>
<line x1="178.5" y1="356.3" x2="178.5" y2="361.3" stroke="#444" stroke-width="0.85"/>
<line x1="195.4" y1="358.5" x2="200.8" y2="358.5" stroke="#444" stroke-width="0.85"/>
<line x1="213" y1="358.5" x2="218" y2="358.5" stroke="#444" stroke-width="0.85"/>
<line x1="215.5" y1="356.3" x2="215.5" y2="361.3" stroke="#444" stroke-width="0.85"/>
<line x1="232" y1="358.5" x2="237" y2="358.5" stroke="#444" stroke-width="0.85"/>
<line x1="234.5" y1="356.3" x2="234.5" y2="361.3" stroke="#444" stroke-width="0.85"/>
<text x="274.7" y="188.8" font-size="14.2" fill="#000" font-weight="bold">F</text>
<line x1="300.5" y1="213.75" x2="300.5" y2="319.6" stroke="#111" stroke-width="1.1"/>
<line x1="298.6" y1="319.5" x2="300.8" y2="319.5" stroke="#111" stroke-width="1.1"/>
<text x="297.1" y="322.77" font-size="10.2" fill="#1a1a1a" text-anchor="end" stroke="#1a1a1a" stroke-width="0.14">0</text>
<line x1="298.6" y1="284.5" x2="300.8" y2="284.5" stroke="#111" stroke-width="1.1"/>
<text x="297.1" y="287.82" font-size="10.2" fill="#1a1a1a" text-anchor="end" stroke="#1a1a1a" stroke-width="0.14">30</text>
<line x1="298.6" y1="249.5" x2="300.8" y2="249.5" stroke="#111" stroke-width="1.1"/>
<text x="297.1" y="252.87" font-size="10.2" fill="#1a1a1a" text-anchor="end" stroke="#1a1a1a" stroke-width="0.14">60</text>
<line x1="298.6" y1="214.5" x2="300.8" y2="214.5" stroke="#111" stroke-width="1.1"/>
<text x="297.1" y="217.92" font-size="10.2" fill="#1a1a1a" text-anchor="end" stroke="#1a1a1a" stroke-width="0.14">90</text>
<line x1="301" y1="319.5" x2="400" y2="319.5" stroke="#111" stroke-width="1.2"/>
<rect x="303.8" y="317.3" width="9.2" height="1.8" fill="#000"/>
<rect x="331.3" y="317.3" width="10" height="1.8" fill="#000"/>
<rect x="359.5" y="294.3" width="10" height="24.8" fill="#000"/>
<line x1="364.5" y1="289.5" x2="364.5" y2="294.3" stroke="#222" stroke-width="0.9"/>
<line x1="363.2" y1="289.5" x2="365.8" y2="289.5" stroke="#222" stroke-width="0.9"/>
<rect x="388" y="295" width="10" height="24.1" fill="#000"/>
<line x1="393.5" y1="288.3" x2="393.5" y2="295" stroke="#222" stroke-width="0.9"/>
<line x1="391.7" y1="288.5" x2="394.3" y2="288.5" stroke="#222" stroke-width="0.9"/>
<text x="311.3" y="306.1" font-size="10.2" fill="#111" textLength="28.7" lengthAdjust="spacingAndGlyphs" stroke="#111" stroke-width="0.14">Sham</text>
<line x1="302.5" y1="309.5" x2="345" y2="309.5" stroke="#111" stroke-width="1"/>
<text x="361.3" y="255.6" font-size="10.2" fill="#111" textLength="32.5" lengthAdjust="spacingAndGlyphs" stroke="#111" stroke-width="0.14">MCAO</text>
<line x1="360" y1="258.5" x2="394.3" y2="258.5" stroke="#111" stroke-width="1"/>
<text x="370" y="268.6" font-size="10.2" fill="#111" textLength="12" lengthAdjust="spacingAndGlyphs" stroke="#111" stroke-width="0.14">ns</text>
<polyline points="363.5,285.5 363.5,277.5 394.5,277.5 394.5,285.5" fill="none" stroke="#222" stroke-width="1"/>
<text transform="translate(281.9,295) rotate(-90)" font-size="10.3" fill="#111" stroke="#111" stroke-width="0.14"><tspan textLength="56" lengthAdjust="spacingAndGlyphs">Edema (mm</tspan><tspan dx="1.0" dy="-4.5">3</tspan><tspan dx="2.4" dy="4.5">)</tspan></text>
<text x="299.5" y="334.4" font-size="10.2" fill="#111" text-anchor="end" textLength="33.8" lengthAdjust="spacingAndGlyphs" stroke="#111" stroke-width="0.14">Vehicle</text>
<text x="300" y="348.6" font-size="10.2" fill="#111" text-anchor="end" textLength="13.4" lengthAdjust="spacingAndGlyphs" stroke="#111" stroke-width="0.14">PS</text>
<text x="300" y="360.8" font-size="10.2" fill="#111" text-anchor="end" textLength="27.2" lengthAdjust="spacingAndGlyphs" stroke="#111" stroke-width="0.14">W146</text>
<line x1="307.7" y1="332.5" x2="312.7" y2="332.5" stroke="#444" stroke-width="0.85"/>
<line x1="310.5" y1="330.3" x2="310.5" y2="335.3" stroke="#444" stroke-width="0.85"/>
<line x1="334.2" y1="332.5" x2="339.6" y2="332.5" stroke="#444" stroke-width="0.85"/>
<line x1="361.3" y1="332.5" x2="366.3" y2="332.5" stroke="#444" stroke-width="0.85"/>
<line x1="363.5" y1="330.3" x2="363.5" y2="335.3" stroke="#444" stroke-width="0.85"/>
<line x1="390.7" y1="332.5" x2="396.1" y2="332.5" stroke="#444" stroke-width="0.85"/>
<line x1="307.5" y1="346.5" x2="312.9" y2="346.5" stroke="#444" stroke-width="0.85"/>
<line x1="334.4" y1="346.5" x2="339.4" y2="346.5" stroke="#444" stroke-width="0.85"/>
<line x1="336.5" y1="343.8" x2="336.5" y2="348.8" stroke="#444" stroke-width="0.85"/>
<line x1="361.1" y1="346.5" x2="366.5" y2="346.5" stroke="#444" stroke-width="0.85"/>
<line x1="390.9" y1="346.5" x2="395.9" y2="346.5" stroke="#444" stroke-width="0.85"/>
<line x1="393.5" y1="343.8" x2="393.5" y2="348.8" stroke="#444" stroke-width="0.85"/>
<line x1="307.7" y1="359.5" x2="312.7" y2="359.5" stroke="#444" stroke-width="0.85"/>
<line x1="310.5" y1="356.7" x2="310.5" y2="361.7" stroke="#444" stroke-width="0.85"/>
<line x1="334.2" y1="359.5" x2="339.6" y2="359.5" stroke="#444" stroke-width="0.85"/>
<line x1="361.3" y1="359.5" x2="366.3" y2="359.5" stroke="#444" stroke-width="0.85"/>
<line x1="363.5" y1="356.7" x2="363.5" y2="361.7" stroke="#444" stroke-width="0.85"/>
<line x1="390.9" y1="359.5" x2="395.9" y2="359.5" stroke="#444" stroke-width="0.85"/>
<line x1="393.5" y1="356.7" x2="393.5" y2="361.7" stroke="#444" stroke-width="0.85"/>
<text x="417.5" y="190.4" font-size="14.2" fill="#000" font-weight="bold">G</text>
<text x="441" y="216.4" font-size="10.2" fill="#111" textLength="13.2" lengthAdjust="spacingAndGlyphs" stroke="#111" stroke-width="0.14">PS</text>
<rect x="458.8" y="208" width="54.2" height="9.3" fill="#f6f6f6" filter="url(#b08)"/>
<rect x="463" y="211" width="18.5" height="4.2" rx="2" fill="#d6d6d6" filter="url(#b08)"/>
<rect x="490" y="210.4" width="19.8" height="5.4" rx="2.4" fill="#333" filter="url(#b08)"/>
<line x1="454.5" y1="232.3" x2="454.5" y2="318.9" stroke="#111" stroke-width="1.1"/>
<line x1="452.3" y1="318.5" x2="454.7" y2="318.5" stroke="#111" stroke-width="1.1"/>
<text x="449.8" y="322.43" font-size="11.2" fill="#1a1a1a" text-anchor="end" stroke="#1a1a1a" stroke-width="0.14">0</text>
<line x1="452.3" y1="301.5" x2="454.7" y2="301.5" stroke="#111" stroke-width="1.1"/>
<text x="449.8" y="305.31" font-size="11.2" fill="#1a1a1a" text-anchor="end" stroke="#1a1a1a" stroke-width="0.14">10</text>
<line x1="452.3" y1="284.5" x2="454.7" y2="284.5" stroke="#111" stroke-width="1.1"/>
<text x="449.8" y="288.19" font-size="11.2" fill="#1a1a1a" text-anchor="end" stroke="#1a1a1a" stroke-width="0.14">20</text>
<line x1="452.3" y1="267.5" x2="454.7" y2="267.5" stroke="#111" stroke-width="1.1"/>
<text x="449.8" y="271.07" font-size="11.2" fill="#1a1a1a" text-anchor="end" stroke="#1a1a1a" stroke-width="0.14">30</text>
<line x1="452.3" y1="249.5" x2="454.7" y2="249.5" stroke="#111" stroke-width="1.1"/>
<text x="449.8" y="253.95" font-size="11.2" fill="#1a1a1a" text-anchor="end" stroke="#1a1a1a" stroke-width="0.14">40</text>
<line x1="452.3" y1="232.5" x2="454.7" y2="232.5" stroke="#111" stroke-width="1.1"/>
<text x="449.8" y="236.83" font-size="11.2" fill="#1a1a1a" text-anchor="end" stroke="#1a1a1a" stroke-width="0.14">50</text>
<line x1="454.7" y1="318.5" x2="512" y2="318.5" stroke="#111" stroke-width="1.2"/>
<rect x="464" y="309.84" width="14.6" height="8.56" fill="#fff" stroke="#000" stroke-width="1"/>
<line x1="471.5" y1="308.47" x2="471.5" y2="309.84" stroke="#222" stroke-width="0.9"/>
<line x1="470" y1="308.5" x2="472.6" y2="308.5" stroke="#222" stroke-width="0.9"/>
<rect x="488.2" y="258.48" width="15" height="59.92" fill="#000"/>
<line x1="495.5" y1="249.06" x2="495.5" y2="258.48" stroke="#222" stroke-width="0.9"/>
<line x1="494.4" y1="249.5" x2="497" y2="249.5" stroke="#222" stroke-width="0.9"/>
<text x="471.2" y="240.3" font-size="9.4" fill="#111" textLength="26" lengthAdjust="spacingAndGlyphs"><tspan font-style="italic">P</tspan> &lt; .01</text>
<polyline points="471.5,307 471.5,242.5 494.5,242.5 494.5,246" fill="none" stroke="#222" stroke-width="1"/>
<text transform="translate(429.89,290.3) rotate(-90)" font-size="10.8" fill="#111" stroke="#111" stroke-width="0.14" textLength="35.5" lengthAdjust="spacingAndGlyphs">PS (nM)</text>
<text x="458.8" y="332.9" font-size="10.2" fill="#111" text-anchor="end" textLength="15" lengthAdjust="spacingAndGlyphs" stroke="#111" stroke-width="0.14">PS</text>
<line x1="469" y1="329.5" x2="473.6" y2="329.5" stroke="#444" stroke-width="0.85"/>
<line x1="493.5" y1="329.5" x2="497.9" y2="329.5" stroke="#444" stroke-width="0.85"/>
<line x1="495.5" y1="327.3" x2="495.5" y2="331.7" stroke="#444" stroke-width="0.85"/>
<text x="2.2" y="399.1" font-size="14.2" fill="#000" font-weight="bold">H</text>
<text x="87.5" y="399.4" font-size="10" fill="#e0202a" textLength="28.8" lengthAdjust="spacingAndGlyphs" stroke="#e0202a" stroke-width="0.14">Lectin</text>
<text x="177.7" y="399.4" font-size="10" fill="#33cc33" textLength="26" lengthAdjust="spacingAndGlyphs" stroke="#33cc33" stroke-width="0.14">Tyro3</text>
<text x="249" y="399.4" font-size="10" fill="#1a1aa8" textLength="56.8" lengthAdjust="spacingAndGlyphs" stroke="#1a1aa8" stroke-width="0.14">Aquaporin 4</text>
<text x="347.5" y="399.4" font-size="10" fill="#111" textLength="36" lengthAdjust="spacingAndGlyphs" stroke="#111" stroke-width="0.14">Merged</text>
<rect x="68.6" y="403.9" width="67.2" height="49.6" fill="#000"/>
<rect x="157.3" y="403.9" width="67.5" height="49.6" fill="#000"/>
<rect x="243.6" y="403.9" width="67.1" height="49.6" fill="#000"/>
<rect x="332.6" y="403.9" width="67.4" height="49.6" fill="#000"/>
<g clip-path="url(#c0)">
<g filter="url(#b2)">
<path fill-rule="evenodd" fill="#dc0a0a" d="M 79 430 C 79 416 86 412 102 412 C 118 412 126.5 417 126.5 428.5 C 126.5 440 118 447 102 447 C 86 447 79 442 79 430 Z M 92 427.5 C 92 421.5 96 419.3 101 419.6 C 107 420.3 112 423.8 116.6 428.6 C 112 432.2 106 435.5 100 435.5 C 95 435.5 92 432.5 92 427.5 Z"/>
</g>
<circle cx="88" cy="418" r="3.5" fill="#ff1a1a" opacity="0.9" filter="url(#b15)"/>
<circle cx="84" cy="432" r="3" fill="#ff1a1a" opacity="0.7" filter="url(#b15)"/>
<circle cx="100" cy="442" r="4" fill="#ff1a1a" opacity="0.8" filter="url(#b15)"/>
<circle cx="114" cy="443" r="3" fill="#ff1a1a" opacity="0.6" filter="url(#b15)"/>
<circle cx="121" cy="424" r="3" fill="#ff1a1a" opacity="0.8" filter="url(#b15)"/>
<circle cx="108" cy="415" r="3.5" fill="#ff1a1a" opacity="0.6" filter="url(#b15)"/>
<circle cx="122" cy="436" r="2.5" fill="#ff1a1a" opacity="0.6" filter="url(#b15)"/>
</g>
<g clip-path="url(#c1)">
<g filter="url(#b2)" fill="none" stroke="#1eb01e" stroke-linecap="round">
<ellipse cx="167.3" cy="423" rx="5.2" ry="11.5" transform="rotate(10 167.3 423)" fill="#1eb01e" stroke="none" opacity="0.9"/>
<path d="M 173 410 C 181 407.5 189 407.5 196 408.5" stroke-width="4" opacity="0.22"/>
<path d="M 190 413 C 198 416 206 422 211.5 431" stroke-width="8" opacity="0.33"/>
<path d="M 180 446.5 C 188 445 198 442.5 212.5 435.5" stroke-width="8.5" opacity="0.9"/>
<path d="M 165 436 C 168 441 172 444 178 447" stroke-width="4" opacity="0.15"/>
</g>
<g filter="url(#b1)">
<ellipse cx="168.5" cy="419" rx="3" ry="6" fill="#30d030" opacity="0.8"/>
<ellipse cx="197" cy="442" rx="7" ry="2.8" transform="rotate(-18 197 442)" fill="#30d030" opacity="0.8"/>
</g>
<g filter="url(#b05)"><rect x="168.1" y="422.6" width="1.1" height="1.1" fill="rgb(40,146,40)" opacity="0.24"/><rect x="168.3" y="433.9" width="1.1" height="1.1" fill="rgb(40,204,40)" opacity="0.29"/><rect x="166.5" y="414.5" width="1.1" height="1.1" fill="rgb(40,151,40)" opacity="0.40"/><rect x="168.1" y="412.0" width="1.1" height="1.1" fill="rgb(40,168,40)" opacity="0.43"/><rect x="168.8" y="432.9" width="1.1" height="1.1" fill="rgb(40,190,40)" opacity="0.23"/><rect x="170.7" y="420.9" width="1.1" height="1.1" fill="rgb(40,177,40)" opacity="0.36"/><rect x="167.2" y="433.5" width="1.1" height="1.1" fill="rgb(40,227,40)" opacity="0.27"/><rect x="164.5" y="433.2" width="1.1" height="1.1" fill="rgb(40,152,40)" opacity="0.40"/><rect x="164.4" y="412.3" width="1.1" height="1.1" fill="rgb(40,203,40)" opacity="0.45"/><rect x="166.1" y="425.3" width="1.1" height="1.1" fill="rgb(40,198,40)" opacity="0.34"/><rect x="167.2" y="416.7" width="1.1" height="1.1" fill="rgb(40,171,40)" opacity="0.24"/><rect x="161.2" y="422.0" width="1.1" height="1.1" fill="rgb(40,233,40)" opacity="0.37"/><rect x="167.1" y="434.3" width="1.1" height="1.1" fill="rgb(40,193,40)" opacity="0.27"/><rect x="167.4" y="426.2" width="1.1" height="1.1" fill="rgb(40,145,40)" opacity="0.55"/><rect x="167.7" y="410.6" width="1.1" height="1.1" fill="rgb(40,180,40)" opacity="0.33"/><rect x="163.2" y="423.0" width="1.1" height="1.1" fill="rgb(40,198,40)" opacity="0.23"/><rect x="169.8" y="413.3" width="1.1" height="1.1" fill="rgb(40,225,40)" opacity="0.23"/><rect x="161.5" y="416.9" width="1.1" height="1.1" fill="rgb(40,197,40)" opacity="0.31"/><rect x="167.3" y="424.6" width="1.1" height="1.1" fill="rgb(40,199,40)" opacity="0.33"/><rect x="166.6" y="435.5" width="1.1" height="1.1" fill="rgb(40,238,40)" opacity="0.31"/><rect x="162.0" y="423.3" width="1.1" height="1.1" fill="rgb(40,203,40)" opacity="0.24"/><rect x="164.1" y="429.6" width="1.1" height="1.1" fill="rgb(40,157,40)" opacity="0.50"/><rect x="165.3" y="435.1" width="1.1" height="1.1" fill="rgb(40,185,40)" opacity="0.45"/><rect x="167.0" y="425.6" width="1.1" height="1.1" fill="rgb(40,162,40)" opacity="0.26"/><rect x="170.7" y="419.9" width="1.1" height="1.1" fill="rgb(40,163,40)" opacity="0.30"/><rect x="169.8" y="413.8" width="1.1" height="1.1" fill="rgb(40,218,40)" opacity="0.41"/><rect x="165.9" y="413.3" width="1.1" height="1.1" fill="rgb(40,219,40)" opacity="0.44"/><rect x="163.0" y="414.3" width="1.1" height="1.1" fill="rgb(40,227,40)" opacity="0.49"/><rect x="163.8" y="428.0" width="1.1" height="1.1" fill="rgb(40,201,40)" opacity="0.43"/><rect x="170.0" y="419.3" width="1.1" height="1.1" fill="rgb(40,196,40)" opacity="0.27"/><rect x="164.9" y="423.4" width="1.1" height="1.1" fill="rgb(40,212,40)" opacity="0.26"/><rect x="170.2" y="413.7" width="1.1" height="1.1" fill="rgb(40,149,40)" opacity="0.52"/><rect x="163.6" y="437.3" width="1.1" height="1.1" fill="rgb(40,184,40)" opacity="0.42"/><rect x="168.9" y="432.9" width="1.1" height="1.1" fill="rgb(40,199,40)" opacity="0.38"/><rect x="166.8" y="423.3" width="1.1" height="1.1" fill="rgb(40,183,40)" opacity="0.47"/><rect x="166.3" y="428.5" width="1.1" height="1.1" fill="rgb(40,142,40)" opacity="0.28"/><rect x="163.4" y="434.3" width="1.1" height="1.1" fill="rgb(40,143,40)" opacity="0.48"/><rect x="170.5" y="422.1" width="1.1" height="1.1" fill="rgb(40,229,40)" opacity="0.51"/><rect x="164.7" y="432.6" width="1.1" height="1.1" fill="rgb(40,238,40)" opacity="0.29"/><rect x="166.1" y="430.1" width="1.1" height="1.1" fill="rgb(40,168,40)" opacity="0.42"/><rect x="168.0" y="414.3" width="1.1" height="1.1" fill="rgb(40,234,40)" opacity="0.49"/><rect x="164.3" y="418.1" width="1.1" height="1.1" fill="rgb(40,143,40)" opacity="0.56"/><rect x="164.5" y="421.7" width="1.1" height="1.1" fill="rgb(40,217,40)" opacity="0.54"/><rect x="167.0" y="425.0" width="1.1" height="1.1" fill="rgb(40,184,40)" opacity="0.54"/><rect x="166.7" y="425.8" width="1.1" height="1.1" fill="rgb(40,200,40)" opacity="0.28"/><rect x="159.6" y="419.7" width="1.1" height="1.1" fill="rgb(40,218,40)" opacity="0.50"/><rect x="167.4" y="428.6" width="1.1" height="1.1" fill="rgb(40,222,40)" opacity="0.24"/><rect x="170.5" y="413.1" width="1.1" height="1.1" fill="rgb(40,236,40)" opacity="0.28"/><rect x="163.5" y="419.0" width="1.1" height="1.1" fill="rgb(40,151,40)" opacity="0.49"/><rect x="161.9" y="427.5" width="1.1" height="1.1" fill="rgb(40,150,40)" opacity="0.46"/><rect x="167.2" y="417.1" width="1.1" height="1.1" fill="rgb(40,215,40)" opacity="0.53"/><rect x="164.4" y="414.5" width="1.1" height="1.1" fill="rgb(40,200,40)" opacity="0.44"/><rect x="167.4" y="427.1" width="1.1" height="1.1" fill="rgb(40,142,40)" opacity="0.21"/><rect x="161.8" y="413.8" width="1.1" height="1.1" fill="rgb(40,195,40)" opacity="0.56"/><rect x="167.2" y="416.9" width="1.1" height="1.1" fill="rgb(40,172,40)" opacity="0.28"/><rect x="165.8" y="434.1" width="1.1" height="1.1" fill="rgb(40,173,40)" opacity="0.40"/><rect x="170.5" y="417.3" width="1.1" height="1.1" fill="rgb(40,198,40)" opacity="0.44"/><rect x="161.1" y="434.1" width="1.1" height="1.1" fill="rgb(40,204,40)" opacity="0.26"/><rect x="166.3" y="416.4" width="1.1" height="1.1" fill="rgb(40,196,40)" opacity="0.48"/><rect x="170.1" y="434.6" width="1.1" height="1.1" fill="rgb(40,162,40)" opacity="0.26"/><rect x="165.5" y="432.1" width="1.1" height="1.1" fill="rgb(40,181,40)" opacity="0.45"/><rect x="161.8" y="430.2" width="1.1" height="1.1" fill="rgb(40,153,40)" opacity="0.52"/><rect x="167.6" y="414.9" width="1.1" height="1.1" fill="rgb(40,238,40)" opacity="0.24"/><rect x="162.0" y="427.0" width="1.1" height="1.1" fill="rgb(40,148,40)" opacity="0.37"/><rect x="169.1" y="434.5" width="1.1" height="1.1" fill="rgb(40,165,40)" opacity="0.45"/><rect x="161.4" y="428.3" width="1.1" height="1.1" fill="rgb(40,204,40)" opacity="0.54"/><rect x="169.7" y="427.7" width="1.1" height="1.1" fill="rgb(40,173,40)" opacity="0.53"/><rect x="167.1" y="417.2" width="1.1" height="1.1" fill="rgb(40,155,40)" opacity="0.35"/><rect x="167.4" y="424.1" width="1.1" height="1.1" fill="rgb(40,149,40)" opacity="0.28"/><rect x="167.0" y="417.9" width="1.1" height="1.1" fill="rgb(40,159,40)" opacity="0.54"/><rect x="168.7" y="429.1" width="1.2" height="1.2" fill="#031" opacity="0.35"/><rect x="166.7" y="434.8" width="1.2" height="1.2" fill="#031" opacity="0.35"/><rect x="166.7" y="425.7" width="1.2" height="1.2" fill="#031" opacity="0.35"/><rect x="167.6" y="421.7" width="1.2" height="1.2" fill="#031" opacity="0.35"/><rect x="163.6" y="432.4" width="1.2" height="1.2" fill="#031" opacity="0.35"/><rect x="164.2" y="428.1" width="1.2" height="1.2" fill="#031" opacity="0.35"/><rect x="166.5" y="414.2" width="1.2" height="1.2" fill="#031" opacity="0.35"/><rect x="165.7" y="413.9" width="1.2" height="1.2" fill="#031" opacity="0.35"/><rect x="165.1" y="422.0" width="1.2" height="1.2" fill="#031" opacity="0.35"/><rect x="167.4" y="419.4" width="1.2" height="1.2" fill="#031" opacity="0.35"/><rect x="165.4" y="425.8" width="1.2" height="1.2" fill="#031" opacity="0.35"/><rect x="166.4" y="418.9" width="1.2" height="1.2" fill="#031" opacity="0.35"/><rect x="167.7" y="425.0" width="1.2" height="1.2" fill="#031" opacity="0.35"/><rect x="163.7" y="422.4" width="1.2" height="1.2" fill="#031" opacity="0.35"/><rect x="162.4" y="429.4" width="1.2" height="1.2" fill="#031" opacity="0.35"/><rect x="166.5" y="418.3" width="1.2" height="1.2" fill="#031" opacity="0.35"/><rect x="165.8" y="418.1" width="1.2" height="1.2" fill="#031" opacity="0.35"/><rect x="172.4" y="408.5" width="1.1" height="1.1" fill="rgb(40,150,40)" opacity="0.18"/><rect x="183.4" y="409.0" width="1.1" height="1.1" fill="rgb(40,198,40)" opacity="0.09"/><rect x="191.9" y="409.3" width="1.1" height="1.1" fill="rgb(40,219,40)" opacity="0.11"/><rect x="192.1" y="405.8" width="1.1" height="1.1" fill="rgb(40,160,40)" opacity="0.13"/><rect x="180.0" y="409.3" width="1.1" height="1.1" fill="rgb(40,179,40)" opacity="0.17"/><rect x="180.7" y="409.4" width="1.1" height="1.1" fill="rgb(40,162,40)" opacity="0.13"/><rect x="173.9" y="409.8" width="1.1" height="1.1" fill="rgb(40,142,40)" opacity="0.20"/><rect x="195.0" y="408.1" width="1.1" height="1.1" fill="rgb(40,171,40)" opacity="0.23"/><rect x="175.9" y="407.8" width="1.1" height="1.1" fill="rgb(40,224,40)" opacity="0.16"/><rect x="189.0" y="407.7" width="1.1" height="1.1" fill="rgb(40,167,40)" opacity="0.24"/><rect x="186.4" y="409.9" width="1.1" height="1.1" fill="rgb(40,233,40)" opacity="0.19"/><rect x="190.9" y="407.7" width="1.1" height="1.1" fill="rgb(40,156,40)" opacity="0.09"/><rect x="182.5" y="408.2" width="1.2" height="1.2" fill="#031" opacity="0.35"/><rect x="188.6" y="406.8" width="1.2" height="1.2" fill="#031" opacity="0.35"/><rect x="182.7" y="407.1" width="1.2" height="1.2" fill="#031" opacity="0.35"/><rect x="190.1" y="413.8" width="1.1" height="1.1" fill="rgb(40,197,40)" opacity="0.14"/><rect x="208.9" y="420.2" width="1.1" height="1.1" fill="rgb(40,210,40)" opacity="0.21"/><rect x="192.9" y="413.1" width="1.1" height="1.1" fill="rgb(40,185,40)" opacity="0.18"/><rect x="200.9" y="422.0" width="1.1" height="1.1" fill="rgb(40,204,40)" opacity="0.28"/><rect x="198.9" y="417.8" width="1.1" height="1.1" fill="rgb(40,173,40)" opacity="0.32"/><rect x="195.0" y="415.9" width="1.1" height="1.1" fill="rgb(40,142,40)" opacity="0.20"/><rect x="202.8" y="419.9" width="1.1" height="1.1" fill="rgb(40,236,40)" opacity="0.17"/><rect x="209.7" y="431.5" width="1.1" height="1.1" fill="rgb(40,203,40)" opacity="0.17"/><rect x="211.1" y="430.5" width="1.1" height="1.1" fill="rgb(40,231,40)" opacity="0.34"/><rect x="205.4" y="419.9" width="1.1" height="1.1" fill="rgb(40,157,40)" opacity="0.34"/><rect x="205.0" y="424.9" width="1.1" height="1.1" fill="rgb(40,142,40)" opacity="0.32"/><rect x="211.6" y="426.6" width="1.1" height="1.1" fill="rgb(40,228,40)" opacity="0.28"/><rect x="194.1" y="414.5" width="1.1" height="1.1" fill="rgb(40,186,40)" opacity="0.35"/><rect x="205.5" y="419.8" width="1.1" height="1.1" fill="rgb(40,220,40)" opacity="0.14"/><rect x="208.3" y="425.6" width="1.1" height="1.1" fill="rgb(40,140,40)" opacity="0.24"/><rect x="192.4" y="411.7" width="1.1" height="1.1" fill="rgb(40,208,40)" opacity="0.16"/><rect x="211.8" y="428.4" width="1.1" height="1.1" fill="rgb(40,172,40)" opacity="0.32"/><rect x="200.0" y="421.6" width="1.1" height="1.1" fill="rgb(40,169,40)" opacity="0.30"/><rect x="204.9" y="424.7" width="1.1" height="1.1" fill="rgb(40,201,40)" opacity="0.34"/><rect x="201.1" y="416.3" width="1.1" height="1.1" fill="rgb(40,222,40)" opacity="0.18"/><rect x="212.0" y="431.5" width="1.1" height="1.1" fill="rgb(40,235,40)" opacity="0.29"/><rect x="211.2" y="430.9" width="1.1" height="1.1" fill="rgb(40,147,40)" opacity="0.24"/><rect x="192.6" y="411.8" width="1.1" height="1.1" fill="rgb(40,177,40)" opacity="0.29"/><rect x="198.6" y="419.6" width="1.1" height="1.1" fill="rgb(40,155,40)" opacity="0.36"/><rect x="211.5" y="433.6" width="1.1" height="1.1" fill="rgb(40,200,40)" opacity="0.14"/><rect x="208.9" y="425.8" width="1.1" height="1.1" fill="rgb(40,197,40)" opacity="0.36"/><rect x="205.4" y="426.6" width="1.1" height="1.1" fill="rgb(40,166,40)" opacity="0.15"/><rect x="194.6" y="416.2" width="1.1" height="1.1" fill="rgb(40,186,40)" opacity="0.16"/><rect x="208.1" y="427.4" width="1.1" height="1.1" fill="rgb(40,186,40)" opacity="0.19"/><rect x="206.9" y="426.6" width="1.1" height="1.1" fill="rgb(40,202,40)" opacity="0.29"/><rect x="204.4" y="423.5" width="1.1" height="1.1" fill="rgb(40,184,40)" opacity="0.22"/><rect x="194.4" y="414.8" width="1.1" height="1.1" fill="rgb(40,236,40)" opacity="0.21"/><rect x="208.1" y="425.6" width="1.1" height="1.1" fill="rgb(40,231,40)" opacity="0.14"/><rect x="200.8" y="419.8" width="1.1" height="1.1" fill="rgb(40,189,40)" opacity="0.36"/><rect x="214.7" y="431.7" width="1.1" height="1.1" fill="rgb(40,236,40)" opacity="0.20"/><rect x="191.7" y="414.4" width="1.1" height="1.1" fill="rgb(40,224,40)" opacity="0.20"/><rect x="195.5" y="417.1" width="1.1" height="1.1" fill="rgb(40,205,40)" opacity="0.21"/><rect x="204.1" y="419.4" width="1.1" height="1.1" fill="rgb(40,143,40)" opacity="0.32"/><rect x="208.8" y="420.0" width="1.1" height="1.1" fill="rgb(40,210,40)" opacity="0.18"/><rect x="196.2" y="415.3" width="1.1" height="1.1" fill="rgb(40,197,40)" opacity="0.27"/><rect x="193.9" y="413.9" width="1.1" height="1.1" fill="rgb(40,146,40)" opacity="0.34"/><rect x="211.3" y="429.9" width="1.1" height="1.1" fill="rgb(40,183,40)" opacity="0.20"/><rect x="199.3" y="412.7" width="1.1" height="1.1" fill="rgb(40,173,40)" opacity="0.23"/><rect x="198.3" y="420.2" width="1.1" height="1.1" fill="rgb(40,190,40)" opacity="0.16"/><rect x="198.2" y="417.0" width="1.1" height="1.1" fill="rgb(40,203,40)" opacity="0.26"/><rect x="211.9" y="420.4" width="1.2" height="1.2" fill="#031" opacity="0.35"/><rect x="204.0" y="425.2" width="1.2" height="1.2" fill="#031" opacity="0.35"/><rect x="200.6" y="418.8" width="1.2" height="1.2" fill="#031" opacity="0.35"/><rect x="192.3" y="416.0" width="1.2" height="1.2" fill="#031" opacity="0.35"/><rect x="210.3" y="429.4" width="1.2" height="1.2" fill="#031" opacity="0.35"/><rect x="202.8" y="425.2" width="1.2" height="1.2" fill="#031" opacity="0.35"/><rect x="196.6" y="418.3" width="1.2" height="1.2" fill="#031" opacity="0.35"/><rect x="189.2" y="413.8" width="1.2" height="1.2" fill="#031" opacity="0.35"/><rect x="205.3" y="423.1" width="1.2" height="1.2" fill="#031" opacity="0.35"/><rect x="201.5" y="419.3" width="1.2" height="1.2" fill="#031" opacity="0.35"/><rect x="202.4" y="423.2" width="1.2" height="1.2" fill="#031" opacity="0.35"/><rect x="196.0" y="439.6" width="1.1" height="1.1" fill="rgb(40,142,40)" opacity="0.25"/><rect x="199.2" y="436.3" width="1.1" height="1.1" fill="rgb(40,200,40)" opacity="0.55"/><rect x="206.3" y="439.3" width="1.1" height="1.1" fill="rgb(40,207,40)" opacity="0.51"/><rect x="201.3" y="441.5" width="1.1" height="1.1" fill="rgb(40,159,40)" opacity="0.26"/><rect x="187.1" y="444.5" width="1.1" height="1.1" fill="rgb(40,222,40)" opacity="0.51"/><rect x="205.4" y="442.0" width="1.1" height="1.1" fill="rgb(40,140,40)" opacity="0.48"/><rect x="189.0" y="444.1" width="1.1" height="1.1" fill="rgb(40,231,40)" opacity="0.32"/><rect x="183.3" y="443.5" width="1.1" height="1.1" fill="rgb(40,195,40)" opacity="0.45"/><rect x="186.0" y="446.6" width="1.1" height="1.1" fill="rgb(40,214,40)" opacity="0.28"/><rect x="191.5" y="446.8" width="1.1" height="1.1" fill="rgb(40,141,40)" opacity="0.40"/><rect x="201.9" y="441.9" width="1.1" height="1.1" fill="rgb(40,171,40)" opacity="0.38"/><rect x="189.8" y="444.0" width="1.1" height="1.1" fill="rgb(40,192,40)" opacity="0.46"/><rect x="194.7" y="443.7" width="1.1" height="1.1" fill="rgb(40,226,40)" opacity="0.44"/><rect x="183.0" y="449.1" width="1.1" height="1.1" fill="rgb(40,187,40)" opacity="0.29"/><rect x="180.1" y="443.0" width="1.1" height="1.1" fill="rgb(40,186,40)" opacity="0.45"/><rect x="189.8" y="444.8" width="1.1" height="1.1" fill="rgb(40,204,40)" opacity="0.23"/><rect x="206.0" y="438.9" width="1.1" height="1.1" fill="rgb(40,164,40)" opacity="0.29"/><rect x="189.1" y="448.9" width="1.1" height="1.1" fill="rgb(40,153,40)" opacity="0.54"/><rect x="200.6" y="436.3" width="1.1" height="1.1" fill="rgb(40,202,40)" opacity="0.36"/><rect x="183.0" y="445.7" width="1.1" height="1.1" fill="rgb(40,190,40)" opacity="0.23"/><rect x="181.8" y="446.2" width="1.1" height="1.1" fill="rgb(40,146,40)" opacity="0.46"/><rect x="183.7" y="447.8" width="1.1" height="1.1" fill="rgb(40,180,40)" opacity="0.47"/><rect x="184.9" y="445.1" width="1.1" height="1.1" fill="rgb(40,163,40)" opacity="0.44"/><rect x="206.1" y="437.9" width="1.1" height="1.1" fill="rgb(40,225,40)" opacity="0.46"/><rect x="199.1" y="441.9" width="1.1" height="1.1" fill="rgb(40,153,40)" opacity="0.21"/><rect x="193.8" y="444.8" width="1.1" height="1.1" fill="rgb(40,155,40)" opacity="0.41"/><rect x="186.1" y="447.1" width="1.1" height="1.1" fill="rgb(40,179,40)" opacity="0.50"/><rect x="203.2" y="442.6" width="1.1" height="1.1" fill="rgb(40,165,40)" opacity="0.34"/><rect x="202.0" y="442.4" width="1.1" height="1.1" fill="rgb(40,200,40)" opacity="0.22"/><rect x="199.4" y="444.2" width="1.1" height="1.1" fill="rgb(40,191,40)" opacity="0.22"/><rect x="177.4" y="447.1" width="1.1" height="1.1" fill="rgb(40,147,40)" opacity="0.30"/><rect x="184.1" y="444.8" width="1.1" height="1.1" fill="rgb(40,174,40)" opacity="0.33"/><rect x="216.0" y="436.5" width="1.1" height="1.1" fill="rgb(40,228,40)" opacity="0.32"/><rect x="190.8" y="447.0" width="1.1" height="1.1" fill="rgb(40,216,40)" opacity="0.53"/><rect x="184.1" y="446.2" width="1.1" height="1.1" fill="rgb(40,200,40)" opacity="0.46"/><rect x="204.2" y="439.4" width="1.1" height="1.1" fill="rgb(40,172,40)" opacity="0.53"/><rect x="205.8" y="441.1" width="1.1" height="1.1" fill="rgb(40,141,40)" opacity="0.49"/><rect x="195.1" y="439.8" width="1.1" height="1.1" fill="rgb(40,217,40)" opacity="0.29"/><rect x="190.5" y="443.9" width="1.1" height="1.1" fill="rgb(40,216,40)" opacity="0.24"/><rect x="187.0" y="445.5" width="1.1" height="1.1" fill="rgb(40,192,40)" opacity="0.23"/><rect x="178.5" y="446.6" width="1.1" height="1.1" fill="rgb(40,160,40)" opacity="0.55"/><rect x="185.5" y="445.6" width="1.1" height="1.1" fill="rgb(40,150,40)" opacity="0.28"/><rect x="196.0" y="441.2" width="1.1" height="1.1" fill="rgb(40,197,40)" opacity="0.27"/><rect x="182.6" y="446.9" width="1.1" height="1.1" fill="rgb(40,226,40)" opacity="0.29"/><rect x="209.0" y="435.4" width="1.1" height="1.1" fill="rgb(40,155,40)" opacity="0.48"/><rect x="191.8" y="446.1" width="1.1" height="1.1" fill="rgb(40,187,40)" opacity="0.30"/><rect x="191.5" y="445.5" width="1.1" height="1.1" fill="rgb(40,171,40)" opacity="0.29"/><rect x="194.7" y="441.5" width="1.1" height="1.1" fill="rgb(40,181,40)" opacity="0.23"/><rect x="193.6" y="443.8" width="1.1" height="1.1" fill="rgb(40,169,40)" opacity="0.44"/><rect x="180.0" y="440.3" width="1.1" height="1.1" fill="rgb(40,153,40)" opacity="0.21"/><rect x="192.1" y="440.3" width="1.1" height="1.1" fill="rgb(40,145,40)" opacity="0.52"/><rect x="190.5" y="445.3" width="1.1" height="1.1" fill="rgb(40,214,40)" opacity="0.28"/><rect x="179.5" y="449.1" width="1.1" height="1.1" fill="rgb(40,197,40)" opacity="0.42"/><rect x="182.3" y="448.3" width="1.1" height="1.1" fill="rgb(40,219,40)" opacity="0.33"/><rect x="180.4" y="447.1" width="1.1" height="1.1" fill="rgb(40,166,40)" opacity="0.56"/><rect x="178.7" y="444.4" width="1.1" height="1.1" fill="rgb(40,166,40)" opacity="0.50"/><rect x="192.5" y="444.1" width="1.1" height="1.1" fill="rgb(40,219,40)" opacity="0.32"/><rect x="191.2" y="445.0" width="1.1" height="1.1" fill="rgb(40,201,40)" opacity="0.23"/><rect x="184.8" y="442.7" width="1.1" height="1.1" fill="rgb(40,159,40)" opacity="0.43"/><rect x="181.9" y="444.1" width="1.1" height="1.1" fill="rgb(40,174,40)" opacity="0.35"/><rect x="191.5" y="441.5" width="1.1" height="1.1" fill="rgb(40,146,40)" opacity="0.32"/><rect x="210.9" y="435.5" width="1.1" height="1.1" fill="rgb(40,142,40)" opacity="0.51"/><rect x="195.4" y="440.4" width="1.1" height="1.1" fill="rgb(40,191,40)" opacity="0.28"/><rect x="178.8" y="447.0" width="1.1" height="1.1" fill="rgb(40,154,40)" opacity="0.50"/><rect x="196.7" y="440.5" width="1.1" height="1.1" fill="rgb(40,238,40)" opacity="0.27"/><rect x="181.1" y="446.9" width="1.1" height="1.1" fill="rgb(40,190,40)" opacity="0.24"/><rect x="215.7" y="433.9" width="1.1" height="1.1" fill="rgb(40,161,40)" opacity="0.26"/><rect x="193.3" y="444.6" width="1.1" height="1.1" fill="rgb(40,148,40)" opacity="0.25"/><rect x="204.2" y="435.4" width="1.1" height="1.1" fill="rgb(40,165,40)" opacity="0.32"/><rect x="183.7" y="445.9" width="1.1" height="1.1" fill="rgb(40,146,40)" opacity="0.42"/><rect x="200.6" y="443.5" width="1.1" height="1.1" fill="rgb(40,228,40)" opacity="0.50"/><rect x="183.9" y="441.8" width="1.1" height="1.1" fill="rgb(40,219,40)" opacity="0.35"/><rect x="188.7" y="443.5" width="1.1" height="1.1" fill="rgb(40,167,40)" opacity="0.22"/><rect x="207.3" y="440.1" width="1.1" height="1.1" fill="rgb(40,159,40)" opacity="0.30"/><rect x="190.7" y="445.4" width="1.1" height="1.1" fill="rgb(40,236,40)" opacity="0.45"/><rect x="196.4" y="444.9" width="1.1" height="1.1" fill="rgb(40,210,40)" opacity="0.51"/><rect x="192.3" y="441.7" width="1.1" height="1.1" fill="rgb(40,171,40)" opacity="0.36"/><rect x="194.6" y="442.8" width="1.1" height="1.1" fill="rgb(40,142,40)" opacity="0.21"/><rect x="201.8" y="439.8" width="1.1" height="1.1" fill="rgb(40,219,40)" opacity="0.48"/><rect x="204.2" y="436.7" width="1.1" height="1.1" fill="rgb(40,191,40)" opacity="0.25"/><rect x="183.9" y="447.0" width="1.2" height="1.2" fill="#031" opacity="0.35"/><rect x="198.1" y="440.3" width="1.2" height="1.2" fill="#031" opacity="0.35"/><rect x="180.7" y="445.6" width="1.2" height="1.2" fill="#031" opacity="0.35"/><rect x="194.7" y="440.4" width="1.2" height="1.2" fill="#031" opacity="0.35"/><rect x="181.9" y="441.5" width="1.2" height="1.2" fill="#031" opacity="0.35"/><rect x="186.0" y="445.6" width="1.2" height="1.2" fill="#031" opacity="0.35"/><rect x="212.1" y="431.5" width="1.2" height="1.2" fill="#031" opacity="0.35"/><rect x="191.1" y="448.1" width="1.2" height="1.2" fill="#031" opacity="0.35"/><rect x="197.2" y="442.1" width="1.2" height="1.2" fill="#031" opacity="0.35"/><rect x="185.2" y="441.9" width="1.2" height="1.2" fill="#031" opacity="0.35"/><rect x="191.4" y="445.1" width="1.2" height="1.2" fill="#031" opacity="0.35"/><rect x="193.5" y="447.8" width="1.2" height="1.2" fill="#031" opacity="0.35"/><rect x="193.8" y="442.3" width="1.2" height="1.2" fill="#031" opacity="0.35"/><rect x="186.2" y="443.8" width="1.2" height="1.2" fill="#031" opacity="0.35"/><rect x="186.2" y="442.9" width="1.2" height="1.2" fill="#031" opacity="0.35"/><rect x="190.0" y="444.7" width="1.2" height="1.2" fill="#031" opacity="0.35"/><rect x="184.8" y="446.7" width="1.2" height="1.2" fill="#031" opacity="0.35"/><rect x="189.8" y="439.5" width="1.2" height="1.2" fill="#031" opacity="0.35"/><rect x="187.0" y="443.5" width="1.2" height="1.2" fill="#031" opacity="0.35"/><rect x="210.2" y="439.7" width="1.2" height="1.2" fill="#031" opacity="0.35"/><rect x="172.1" y="444.0" width="1.1" height="1.1" fill="rgb(40,153,40)" opacity="0.11"/><rect x="175.1" y="445.1" width="1.1" height="1.1" fill="rgb(40,187,40)" opacity="0.11"/><rect x="170.7" y="442.7" width="1.1" height="1.1" fill="rgb(40,237,40)" opacity="0.09"/><rect x="169.4" y="442.2" width="1.1" height="1.1" fill="rgb(40,146,40)" opacity="0.11"/><rect x="175.3" y="447.0" width="1.1" height="1.1" fill="rgb(40,214,40)" opacity="0.19"/><rect x="170.4" y="440.7" width="1.1" height="1.1" fill="rgb(40,168,40)" opacity="0.09"/><rect x="177.3" y="446.3" width="1.1" height="1.1" fill="rgb(40,186,40)" opacity="0.19"/><rect x="165.6" y="438.9" width="1.1" height="1.1" fill="rgb(40,145,40)" opacity="0.08"/><rect x="164.2" y="435.7" width="1.2" height="1.2" fill="#031" opacity="0.35"/><rect x="174.9" y="446.2" width="1.2" height="1.2" fill="#031" opacity="0.35"/></g>
</g>
<g clip-path="url(#c2)">
<g filter="url(#b25)" fill="none">
<ellipse cx="271" cy="430" rx="17.5" ry="14" transform="rotate(25 271 430)" stroke="#1010b8" stroke-width="7"/>
<path d="M 260 411 C 268 406 280 406 287 410 C 292 414 294 421 293.5 432" stroke="#1c1cff" stroke-width="7.5"/>
<path d="M 257 442 C 263 449 276 452 291 448" stroke="#1c1cff" stroke-width="6.5"/>
<path d="M 249 423 C 249 430 251 436 255 441" stroke="#1414d0" stroke-width="5.5"/>
<path d="M 296 410 C 305 416 309 428 306 440 C 304 446 300 450 295 452" stroke="#0a0aa8" stroke-width="5"/>
</g>
<ellipse cx="270" cy="429.5" rx="9.5" ry="8" fill="#000" filter="url(#b2)"/>
</g>
<g clip-path="url(#c3)">
<g filter="url(#b25)" fill="none">
<ellipse cx="361" cy="429" rx="20" ry="16.5" transform="rotate(20 361 429)" stroke="#1010c0" stroke-width="8.5"/>
<path d="M 352 410 C 360 405 372 405 378 412 C 381 416 382 420 381 424" stroke="#1c1cff" stroke-width="8"/>
<path d="M 338 425 C 338 432 340 438 344 442" stroke="#1818e0" stroke-width="6"/>
<path d="M 345 444 C 354 450 366 451 376 448" stroke="#1c1cff" stroke-width="6.5"/>
<path d="M 384 410 C 394 416 399 428 395 440 C 393 446 389 450 384 452" stroke="#08088c" stroke-width="4.5"/>
</g>
<g filter="url(#b2)">
<ellipse cx="356.6" cy="426.6" rx="11.2" ry="9.4" fill="none" stroke="#ff1a1a" stroke-width="8.2"/>
<ellipse cx="343.6" cy="419.5" rx="2.6" ry="4.4" fill="#b8c820"/>
<ellipse cx="361" cy="436.4" rx="6.8" ry="2.6" transform="rotate(-20 361 436.4)" fill="#ffb000"/>
</g>
<ellipse cx="357" cy="425.5" rx="5.2" ry="4" fill="#000" filter="url(#b15)"/>
</g>
<line x1="337.9" y1="420.2" x2="375.4" y2="435.3" stroke="#f4f4dc" stroke-width="1.4"/>
<line x1="381.9" y1="448.3" x2="396.3" y2="448.3" stroke="#f0f0f0" stroke-width="1.6"/>
<line x1="84" y1="472.6" x2="206" y2="472.6" stroke="#e02020" stroke-width="2"/>
<line x1="206" y1="472.6" x2="285" y2="472.6" stroke="#111" stroke-width="2"/>
<line x1="285" y1="472.6" x2="395.6" y2="472.6" stroke="#e02020" stroke-width="2"/>
<line x1="147.5" y1="472.6" x2="147.5" y2="477.5" stroke="#e02020" stroke-width="1"/>
<line x1="335.5" y1="472.6" x2="335.5" y2="477.5" stroke="#e02020" stroke-width="1"/>
<text x="113.6" y="471.2" font-size="8.4" fill="#e02020" textLength="64.4" lengthAdjust="spacingAndGlyphs" stroke="#e02020" stroke-width="0.14">ENDOTHELIUM</text>
<text x="228.6" y="471.2" font-size="8.4" fill="#111" textLength="30.7" lengthAdjust="spacingAndGlyphs" stroke="#111" stroke-width="0.14">LUMEN</text>
<text x="306.7" y="471.2" font-size="8.4" fill="#e02020" textLength="64.1" lengthAdjust="spacingAndGlyphs" stroke="#e02020" stroke-width="0.14">ENDOTHELIUM</text>
<text x="115.6" y="491.3" font-size="13" fill="#000" font-weight="bold">A</text>
<text x="173.8" y="491.3" font-size="13" fill="#000" font-weight="bold">L</text>
<text x="307.4" y="491.3" font-size="13" fill="#000" font-weight="bold">L</text>
<text x="360.4" y="491.3" font-size="13" fill="#000" font-weight="bold">A</text>
<path d="M 80.5 587.5 H 88.7 V 576 H 90.5 V 581 H 91.5 V 576.5 H 93.6 V 584 H 95.9 V 574.3 H 99 V 562.7 H 99.9 V 567.1 H 109.2 V 516.9 H 110.8 V 539.3 H 112.6 V 522 H 113.8 V 539.3 H 124.8 V 531.5 H 129.6 V 515 H 131 V 505 H 132.5 V 505.2 H 136.4 V 514 H 141.3 V 532.5 H 145.2 V 534.5 H 151 V 536.4 H 152.9 V 549 H 157.8 V 545 H 159.5 V 557 H 161 V 545 H 163 V 557 H 165.6 V 541.2 H 169.5 V 549 H 173.4 V 570.5 H 178.2 V 580.2 H 182.1 V 587 H 185 V 587.5 H 324 V 587.5 H 324.5 V 579 H 326 V 573.5 H 329 V 565.4 H 333 V 562.7 H 337 V 558.7 H 341.2 V 535.8 H 345.2 V 562.7 H 347.9 V 535.8 H 351.9 V 519.6 H 356 V 527.7 H 360 V 543.8 H 364 V 546.5 H 369.4 V 547.9 H 373.5 V 507.5 H 378.9 V 554.6 H 384.2 V 573.5 H 389.6 V 561.4 H 395 V 576.2 H 400.4 V 587.5" fill="none" stroke="#2fc22f" stroke-width="1.05" stroke-linejoin="miter"/>
<path d="M 80.5 587.3 H 82.5 V 584.2 H 87 V 583.8 H 89 V 580 H 92 V 576.5 H 94.1 V 570.7 H 99 V 569 H 100.5 V 567.5 H 104.5 V 552 H 108.8 V 537.3 H 115 V 528.6 H 119.9 V 526 H 125.7 V 513 H 128.6 V 505.2 H 131.6 V 514 H 134.5 V 515 H 137 V 516 H 140.3 V 526.6 H 145.2 V 500.3 H 148.1 V 489.6 H 157.8 V 499.4 H 162.7 V 498.4 H 165.6 V 525.6 H 167 V 516.9 H 173.4 V 532.5 H 176 V 528 H 178.2 V 524.7 H 184.1 V 547.1 H 188 V 549 H 193.8 V 554 H 198.7 V 549 H 199.8 V 568 H 200.6 V 549 H 205.5 V 573.4 H 209.4 V 581.2 H 214 V 582.5 H 217.2 V 580 H 220 V 583 H 223 V 580.5 H 227 V 583.5 H 231 V 581.5 H 235 V 584 H 239.6 V 586 H 250 V 585.8 H 255.5 V 586 H 256.8 V 574.5 H 258 V 586 H 265 V 586.5 H 281.5 V 579.2 H 284.8 V 576 H 292.7 V 562.7 H 295.4 V 557.3 H 300.8 V 547.9 H 304.8 V 530.4 H 310.2 V 521 H 313 V 511.5 H 315.6 V 499.4 H 321 V 506.2 H 330.4 V 481.9 H 333 V 480.6 H 335.8 V 498.1 H 346.5 V 494 H 353.3 V 519.6 H 356 V 527.7 H 361.4 V 541.2 H 365.4 V 546.5 H 373.5 V 570.8 H 376.2 V 572 H 384.2 V 585.6 H 388.3 V 586.8 H 398 V 587" fill="none" stroke="#d8262e" stroke-width="1" stroke-linejoin="miter"/>
<line x1="80.5" y1="480.6" x2="80.5" y2="588.3" stroke="#222" stroke-width="1.2"/>
<line x1="80.5" y1="587.7" x2="425" y2="587.7" stroke="#333" stroke-width="1.4"/>
<line x1="77.5" y1="587.5" x2="80.5" y2="587.5" stroke="#222" stroke-width="1.1"/>
<text x="77" y="590.6" font-size="10.5" fill="#1a1a1a" text-anchor="end" stroke="#1a1a1a" stroke-width="0.14">0</text>
<line x1="77.5" y1="552.5" x2="80.5" y2="552.5" stroke="#222" stroke-width="1.1"/>
<text x="77" y="555.3" font-size="10.5" fill="#1a1a1a" text-anchor="end" stroke="#1a1a1a" stroke-width="0.14">0.5</text>
<line x1="77.5" y1="517.5" x2="80.5" y2="517.5" stroke="#222" stroke-width="1.1"/>
<text x="77" y="520" font-size="10.5" fill="#1a1a1a" text-anchor="end" stroke="#1a1a1a" stroke-width="0.14">1.0</text>
<line x1="77.5" y1="481.5" x2="80.5" y2="481.5" stroke="#222" stroke-width="1.1"/>
<text x="77" y="484.7" font-size="10.5" fill="#1a1a1a" text-anchor="end" stroke="#1a1a1a" stroke-width="0.14">1.5</text>
<line x1="80.5" y1="587.7" x2="80.5" y2="590.7" stroke="#222" stroke-width="1.1"/>
<text x="81.5" y="600.8" font-size="10.5" fill="#1a1a1a" text-anchor="middle" stroke="#1a1a1a" stroke-width="0.14">0</text>
<line x1="247.5" y1="587.7" x2="247.5" y2="590.7" stroke="#222" stroke-width="1.1"/>
<text x="248.5" y="600.8" font-size="10.5" fill="#1a1a1a" text-anchor="middle" stroke="#1a1a1a" stroke-width="0.14">2</text>
<line x1="410.5" y1="587.7" x2="410.5" y2="590.7" stroke="#222" stroke-width="1.1"/>
<text x="411" y="600.8" font-size="10.5" fill="#1a1a1a" text-anchor="middle" stroke="#1a1a1a" stroke-width="0.14">4</text>
<text x="214.5" y="612.8" font-size="10.5" fill="#111" textLength="67" lengthAdjust="spacingAndGlyphs" stroke="#111" stroke-width="0.14">Distance (&#181;m)</text>
<text transform="translate(45.4,559.6) rotate(-90)" font-size="10.4" font-weight="bold" textLength="60.8" lengthAdjust="spacingAndGlyphs"><tspan fill="#33cc33">Tyro3</tspan><tspan fill="#111">/</tspan><tspan fill="#e0202a">Lectin</tspan></text>
<text transform="translate(54.8,569.5) rotate(-90)" font-size="10.4" font-weight="bold" fill="#000" textLength="79.5" lengthAdjust="spacingAndGlyphs">Signal Intensity</text>
</svg>
</body></html>
